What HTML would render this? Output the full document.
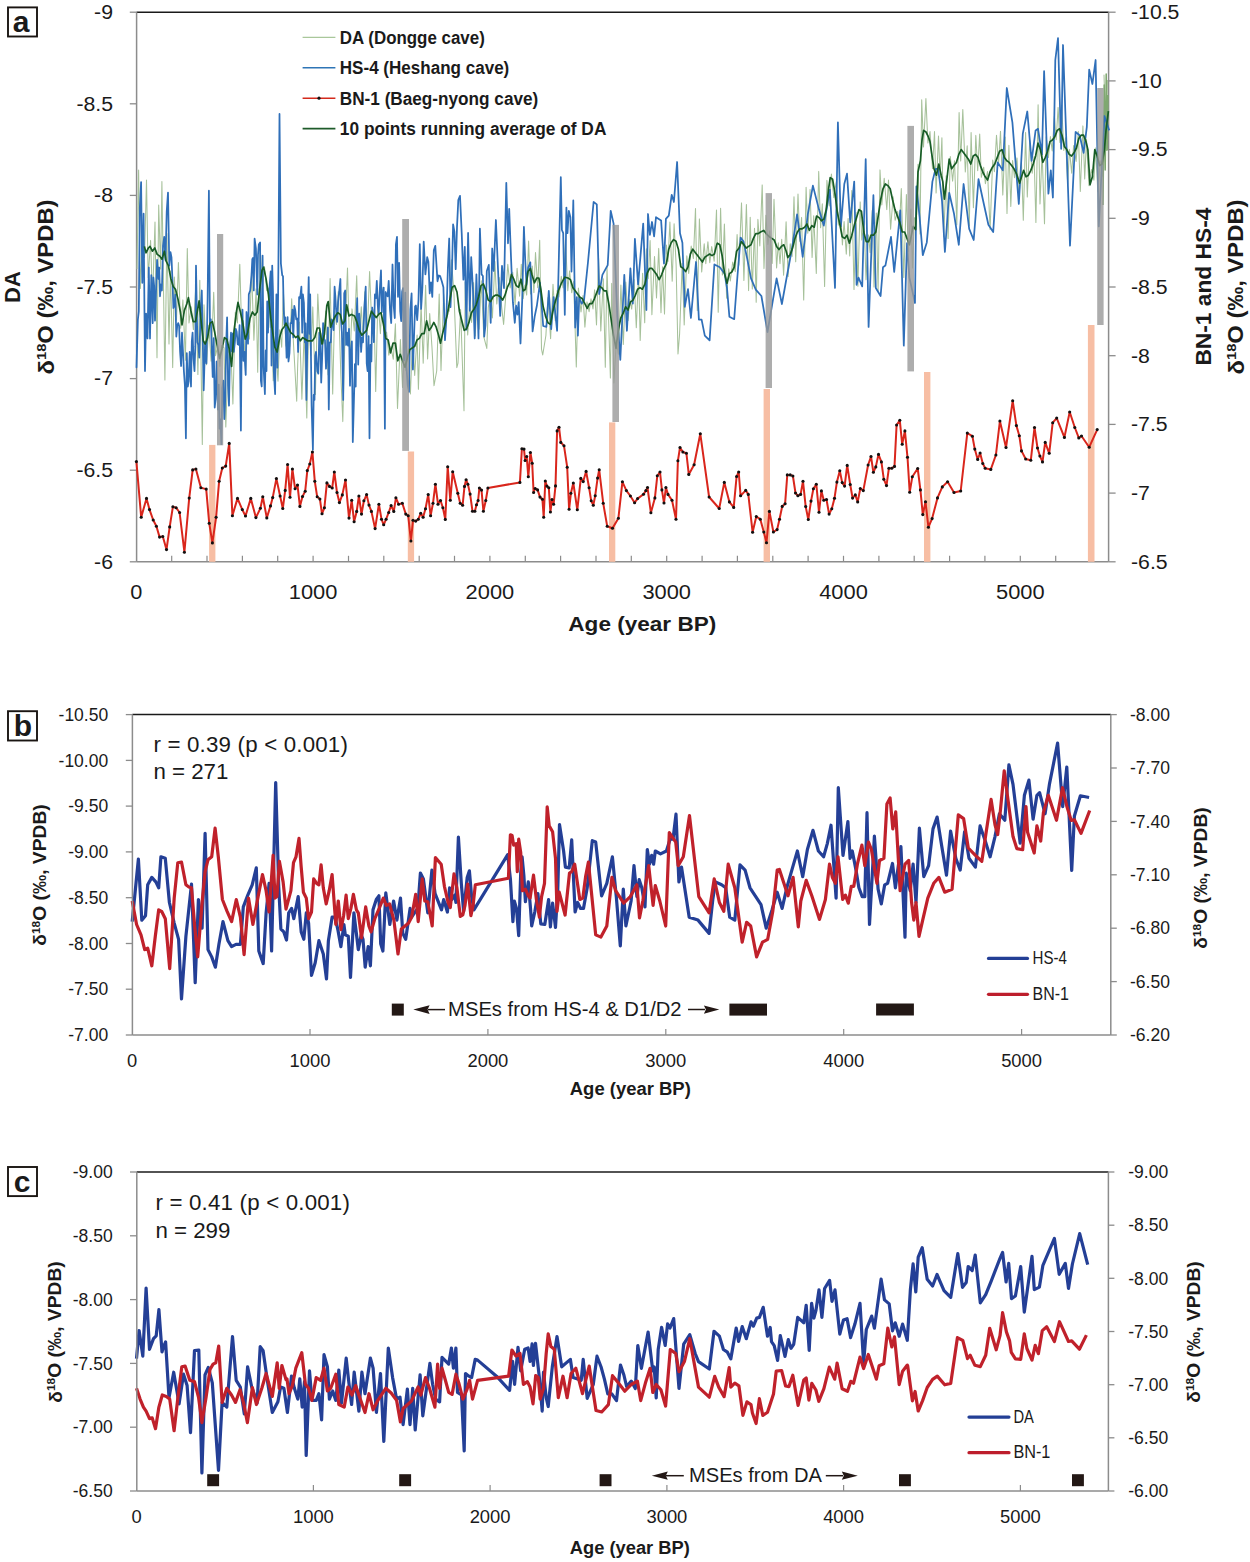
<!DOCTYPE html>
<html><head><meta charset="utf-8"><style>
html,body{margin:0;padding:0;background:#fff;}
svg{display:block;font-family:"Liberation Sans",sans-serif;}
</style></head><body>
<svg width="1250" height="1562" viewBox="0 0 1250 1562" font-family="'Liberation Sans', sans-serif">
<rect width="1250" height="1562" fill="#fff"/>
<rect x="8.0" y="7.4" width="29.0" height="29.1" fill="none" stroke="#1a1512" stroke-width="1.9"/>
<text x="21.2" y="31.9" font-size="30" text-anchor="middle" font-weight="bold" fill="#1a1a1a" >a</text>
<line x1="129.8" y1="12.2" x2="136.6" y2="12.2" stroke="#8c8c8c" stroke-width="1.3" />
<text x="113.0" y="19.0" font-size="19.5" text-anchor="end" textLength="18.9" lengthAdjust="spacingAndGlyphs" fill="#1a1a1a" >-9</text>
<line x1="129.8" y1="103.8" x2="136.6" y2="103.8" stroke="#8c8c8c" stroke-width="1.3" />
<text x="113.0" y="110.6" font-size="19.5" text-anchor="end" textLength="36.6" lengthAdjust="spacingAndGlyphs" fill="#1a1a1a" >-8.5</text>
<line x1="129.8" y1="195.4" x2="136.6" y2="195.4" stroke="#8c8c8c" stroke-width="1.3" />
<text x="113.0" y="202.2" font-size="19.5" text-anchor="end" textLength="18.9" lengthAdjust="spacingAndGlyphs" fill="#1a1a1a" >-8</text>
<line x1="129.8" y1="287.0" x2="136.6" y2="287.0" stroke="#8c8c8c" stroke-width="1.3" />
<text x="113.0" y="293.8" font-size="19.5" text-anchor="end" textLength="36.6" lengthAdjust="spacingAndGlyphs" fill="#1a1a1a" >-7.5</text>
<line x1="129.8" y1="378.6" x2="136.6" y2="378.6" stroke="#8c8c8c" stroke-width="1.3" />
<text x="113.0" y="385.4" font-size="19.5" text-anchor="end" textLength="18.9" lengthAdjust="spacingAndGlyphs" fill="#1a1a1a" >-7</text>
<line x1="129.8" y1="470.2" x2="136.6" y2="470.2" stroke="#8c8c8c" stroke-width="1.3" />
<text x="113.0" y="477.0" font-size="19.5" text-anchor="end" textLength="36.6" lengthAdjust="spacingAndGlyphs" fill="#1a1a1a" >-6.5</text>
<line x1="129.8" y1="561.8" x2="136.6" y2="561.8" stroke="#8c8c8c" stroke-width="1.3" />
<text x="113.0" y="568.6" font-size="19.5" text-anchor="end" textLength="18.9" lengthAdjust="spacingAndGlyphs" fill="#1a1a1a" >-6</text>
<line x1="1108.6" y1="12.2" x2="1115.6" y2="12.2" stroke="#8c8c8c" stroke-width="1.3" />
<text x="1131.0" y="19.0" font-size="19.5" text-anchor="start" textLength="48.4" lengthAdjust="spacingAndGlyphs" fill="#1a1a1a" >-10.5</text>
<line x1="1108.6" y1="80.9" x2="1115.6" y2="80.9" stroke="#8c8c8c" stroke-width="1.3" />
<text x="1131.0" y="87.7" font-size="19.5" text-anchor="start" textLength="30.7" lengthAdjust="spacingAndGlyphs" fill="#1a1a1a" >-10</text>
<line x1="1108.6" y1="149.6" x2="1115.6" y2="149.6" stroke="#8c8c8c" stroke-width="1.3" />
<text x="1131.0" y="156.4" font-size="19.5" text-anchor="start" textLength="36.6" lengthAdjust="spacingAndGlyphs" fill="#1a1a1a" >-9.5</text>
<line x1="1108.6" y1="218.3" x2="1115.6" y2="218.3" stroke="#8c8c8c" stroke-width="1.3" />
<text x="1131.0" y="225.1" font-size="19.5" text-anchor="start" textLength="18.9" lengthAdjust="spacingAndGlyphs" fill="#1a1a1a" >-9</text>
<line x1="1108.6" y1="287.0" x2="1115.6" y2="287.0" stroke="#8c8c8c" stroke-width="1.3" />
<text x="1131.0" y="293.8" font-size="19.5" text-anchor="start" textLength="36.6" lengthAdjust="spacingAndGlyphs" fill="#1a1a1a" >-8.5</text>
<line x1="1108.6" y1="355.7" x2="1115.6" y2="355.7" stroke="#8c8c8c" stroke-width="1.3" />
<text x="1131.0" y="362.5" font-size="19.5" text-anchor="start" textLength="18.9" lengthAdjust="spacingAndGlyphs" fill="#1a1a1a" >-8</text>
<line x1="1108.6" y1="424.4" x2="1115.6" y2="424.4" stroke="#8c8c8c" stroke-width="1.3" />
<text x="1131.0" y="431.2" font-size="19.5" text-anchor="start" textLength="36.6" lengthAdjust="spacingAndGlyphs" fill="#1a1a1a" >-7.5</text>
<line x1="1108.6" y1="493.1" x2="1115.6" y2="493.1" stroke="#8c8c8c" stroke-width="1.3" />
<text x="1131.0" y="499.9" font-size="19.5" text-anchor="start" textLength="18.9" lengthAdjust="spacingAndGlyphs" fill="#1a1a1a" >-7</text>
<line x1="1108.6" y1="561.8" x2="1115.6" y2="561.8" stroke="#8c8c8c" stroke-width="1.3" />
<text x="1131.0" y="568.6" font-size="19.5" text-anchor="start" textLength="36.6" lengthAdjust="spacingAndGlyphs" fill="#1a1a1a" >-6.5</text>
<text x="136.3" y="599.0" font-size="19.5" text-anchor="middle" textLength="12.1" lengthAdjust="spacingAndGlyphs" fill="#1a1a1a" >0</text>
<text x="313.1" y="599.0" font-size="19.5" text-anchor="middle" textLength="48.6" lengthAdjust="spacingAndGlyphs" fill="#1a1a1a" >1000</text>
<text x="489.9" y="599.0" font-size="19.5" text-anchor="middle" textLength="48.6" lengthAdjust="spacingAndGlyphs" fill="#1a1a1a" >2000</text>
<text x="666.7" y="599.0" font-size="19.5" text-anchor="middle" textLength="48.6" lengthAdjust="spacingAndGlyphs" fill="#1a1a1a" >3000</text>
<text x="843.5" y="599.0" font-size="19.5" text-anchor="middle" textLength="48.6" lengthAdjust="spacingAndGlyphs" fill="#1a1a1a" >4000</text>
<text x="1020.3" y="599.0" font-size="19.5" text-anchor="middle" textLength="48.6" lengthAdjust="spacingAndGlyphs" fill="#1a1a1a" >5000</text>
<line x1="171.7" y1="555.8" x2="171.7" y2="561.8" stroke="#8c8c8c" stroke-width="1.2" />
<line x1="207.0" y1="555.8" x2="207.0" y2="561.8" stroke="#8c8c8c" stroke-width="1.2" />
<line x1="242.4" y1="555.8" x2="242.4" y2="561.8" stroke="#8c8c8c" stroke-width="1.2" />
<line x1="277.7" y1="555.8" x2="277.7" y2="561.8" stroke="#8c8c8c" stroke-width="1.2" />
<line x1="313.1" y1="555.8" x2="313.1" y2="561.8" stroke="#8c8c8c" stroke-width="1.2" />
<line x1="348.5" y1="555.8" x2="348.5" y2="561.8" stroke="#8c8c8c" stroke-width="1.2" />
<line x1="383.8" y1="555.8" x2="383.8" y2="561.8" stroke="#8c8c8c" stroke-width="1.2" />
<line x1="419.2" y1="555.8" x2="419.2" y2="561.8" stroke="#8c8c8c" stroke-width="1.2" />
<line x1="454.5" y1="555.8" x2="454.5" y2="561.8" stroke="#8c8c8c" stroke-width="1.2" />
<line x1="489.9" y1="555.8" x2="489.9" y2="561.8" stroke="#8c8c8c" stroke-width="1.2" />
<line x1="525.3" y1="555.8" x2="525.3" y2="561.8" stroke="#8c8c8c" stroke-width="1.2" />
<line x1="560.6" y1="555.8" x2="560.6" y2="561.8" stroke="#8c8c8c" stroke-width="1.2" />
<line x1="596.0" y1="555.8" x2="596.0" y2="561.8" stroke="#8c8c8c" stroke-width="1.2" />
<line x1="631.3" y1="555.8" x2="631.3" y2="561.8" stroke="#8c8c8c" stroke-width="1.2" />
<line x1="666.7" y1="555.8" x2="666.7" y2="561.8" stroke="#8c8c8c" stroke-width="1.2" />
<line x1="702.1" y1="555.8" x2="702.1" y2="561.8" stroke="#8c8c8c" stroke-width="1.2" />
<line x1="737.4" y1="555.8" x2="737.4" y2="561.8" stroke="#8c8c8c" stroke-width="1.2" />
<line x1="772.8" y1="555.8" x2="772.8" y2="561.8" stroke="#8c8c8c" stroke-width="1.2" />
<line x1="808.1" y1="555.8" x2="808.1" y2="561.8" stroke="#8c8c8c" stroke-width="1.2" />
<line x1="843.5" y1="555.8" x2="843.5" y2="561.8" stroke="#8c8c8c" stroke-width="1.2" />
<line x1="878.9" y1="555.8" x2="878.9" y2="561.8" stroke="#8c8c8c" stroke-width="1.2" />
<line x1="914.2" y1="555.8" x2="914.2" y2="561.8" stroke="#8c8c8c" stroke-width="1.2" />
<line x1="949.6" y1="555.8" x2="949.6" y2="561.8" stroke="#8c8c8c" stroke-width="1.2" />
<line x1="984.9" y1="555.8" x2="984.9" y2="561.8" stroke="#8c8c8c" stroke-width="1.2" />
<line x1="1020.3" y1="555.8" x2="1020.3" y2="561.8" stroke="#8c8c8c" stroke-width="1.2" />
<line x1="1055.7" y1="555.8" x2="1055.7" y2="561.8" stroke="#8c8c8c" stroke-width="1.2" />
<line x1="1091.0" y1="555.8" x2="1091.0" y2="561.8" stroke="#8c8c8c" stroke-width="1.2" />
<text x="642.3" y="631.0" font-size="21" text-anchor="middle" font-weight="bold" textLength="148" lengthAdjust="spacingAndGlyphs" fill="#1a1a1a" >Age (year BP)</text>
<text transform="translate(19.5,287.0) rotate(-90)" x="0" y="0" font-size="22" font-weight="bold" text-anchor="middle" fill="#1a1a1a">DA</text>
<text transform="translate(53.5,287.0) rotate(-90)" x="0" y="0" font-size="22" font-weight="bold" text-anchor="middle" fill="#1a1a1a" textLength="175" lengthAdjust="spacingAndGlyphs">δ<tspan font-size="0.62em" dy="-0.55em">18</tspan><tspan dy="0.34em">O (‰, VPDB)</tspan></text>
<text transform="translate(1210.5,286.6) rotate(-90)" x="0" y="0" font-size="22" font-weight="bold" text-anchor="middle" fill="#1a1a1a" textLength="158" lengthAdjust="spacingAndGlyphs">BN-1 and HS-4</text>
<text transform="translate(1243.5,287.0) rotate(-90)" x="0" y="0" font-size="22" font-weight="bold" text-anchor="middle" fill="#1a1a1a" textLength="175" lengthAdjust="spacingAndGlyphs">δ<tspan font-size="0.62em" dy="-0.55em">18</tspan><tspan dy="0.34em">O (‰, VPDB)</tspan></text>
<line x1="302.6" y1="37.4" x2="335.4" y2="37.4" stroke="#a9c79a" stroke-width="1.3" />
<text x="339.8" y="43.8" font-size="18" text-anchor="start" font-weight="bold" textLength="145" lengthAdjust="spacingAndGlyphs" fill="#1a1a1a" >DA (Dongge cave)</text>
<line x1="302.6" y1="67.8" x2="335.4" y2="67.8" stroke="#2e75b6" stroke-width="1.6" />
<text x="339.8" y="74.2" font-size="18" text-anchor="start" font-weight="bold" textLength="169.5" lengthAdjust="spacingAndGlyphs" fill="#1a1a1a" >HS-4 (Heshang cave)</text>
<line x1="302.6" y1="98.2" x2="335.4" y2="98.2" stroke="#d42a1c" stroke-width="1.6" />
<circle cx="319" cy="98.19999999999999" r="1.6" fill="#111"/>
<text x="339.8" y="104.6" font-size="18" text-anchor="start" font-weight="bold" textLength="198.5" lengthAdjust="spacingAndGlyphs" fill="#1a1a1a" >BN-1 (Baeg-nyong cave)</text>
<line x1="302.6" y1="128.6" x2="335.4" y2="128.6" stroke="#1e5b2a" stroke-width="1.6" />
<text x="339.8" y="135.0" font-size="18" text-anchor="start" font-weight="bold" textLength="266.6" lengthAdjust="spacingAndGlyphs" fill="#1a1a1a" >10 points running average of DA</text>
<line x1="136.6" y1="12.2" x2="1108.6" y2="12.2" stroke="#1a1a1a" stroke-width="1.5" />
<line x1="136.6" y1="12.2" x2="136.6" y2="561.8" stroke="#8c8c8c" stroke-width="1.5" />
<line x1="1108.6" y1="12.2" x2="1108.6" y2="561.8" stroke="#8c8c8c" stroke-width="1.5" />
<line x1="136.6" y1="561.8" x2="1108.6" y2="561.8" stroke="#8c8c8c" stroke-width="1.5" />
<polyline points="137.0,269.0 138.6,170.0 140.4,288.4 142.4,239.6 144.5,257.5 146.5,180.0 148.2,277.5 150.6,240.4 152.5,301.1 155.0,222.0 157.0,357.8 158.7,205.1 160.6,268.9 161.9,181.5 164.9,380.0 166.9,233.5 169.0,344.0 170.5,271.0 172.7,367.6 174.3,277.1 176.5,320.0 178.4,262.5 180.7,328.2 182.9,299.9 185.4,360.3 187.3,248.6 189.0,323.0 191.3,306.8 193.4,329.6 195.7,288.4 197.9,374.4 199.8,280.3 202.3,444.5 204.0,304.8 206.6,364.7 208.8,325.4 211.1,361.2 213.7,292.2 215.6,355.7 217.9,344.7 219.9,366.5 221.7,345.4 224.0,347.9 225.8,427.0 228.3,353.2 230.4,339.4 232.9,404.1 235.3,312.4 237.4,322.9 239.8,264.2 241.6,327.1 243.4,320.5 245.5,370.7 247.4,328.9 249.4,339.1 251.6,269.5 253.9,340.2 256.1,288.9 257.7,372.2 260.1,247.5 262.5,287.6 264.5,266.5 266.7,290.7 268.4,288.1 270.2,327.5 271.8,321.5 273.2,380.8 275.5,344.2 278.0,381.3 279.8,329.9 281.7,347.2 283.4,291.6 286.0,345.9 288.1,322.7 289.8,346.4 291.7,298.8 293.4,341.9 296.7,401.2 297.7,364.4 299.4,322.0 301.9,399.2 304.2,331.2 306.8,418.0 308.6,323.9 310.9,355.7 312.8,306.9 315.4,394.5 317.8,294.1 320.1,342.2 322.2,333.2 323.8,343.8 325.7,311.1 328.0,374.7 330.1,278.5 332.7,394.1 334.6,311.0 336.4,324.5 338.3,291.6 340.8,374.3 342.8,421.6 345.2,326.2 347.5,268.1 349.9,362.8 352.0,308.9 354.3,330.9 356.7,275.8 358.7,346.9 361.3,306.7 363.1,342.2 364.8,291.8 367.2,336.6 369.6,271.6 371.9,327.8 374.0,309.6 375.7,391.4 377.9,298.7 380.4,333.8 382.9,287.3 384.7,343.6 386.6,332.0 388.8,355.2 390.8,346.8 393.3,359.3 395.4,323.8 397.5,408.4 400.4,339.5 402.5,387.4 404.2,352.0 405.9,370.6 408.3,348.7 410.4,393.9 412.6,338.7 414.7,375.4 417.1,335.1 418.4,389.2 421.1,304.3 423.2,363.3 425.6,285.2 427.6,358.9 429.7,313.5 432.0,347.7 434.0,385.6 436.7,371.0 439.2,294.1 441.0,370.4 443.6,294.2 445.3,330.9 447.4,309.9 449.2,311.1 451.5,259.7 454.0,294.9 456.8,367.6 458.0,363.1 460.6,309.4 464.0,410.8 465.2,282.2 467.7,335.0 469.7,303.5 471.6,322.4 473.6,282.6 475.2,336.0 477.2,297.0 479.1,329.2 481.3,280.8 483.8,336.8 486.8,348.4 488.3,307.3 490.7,293.9 492.4,317.9 494.9,261.6 496.8,303.9 499.3,277.5 501.6,306.4 503.6,324.4 505.3,301.9 507.8,264.3 510.2,288.0 512.7,272.3 515.1,304.6 517.1,268.3 519.6,296.2 521.3,264.2 523.2,298.6 524.9,285.1 526.7,295.1 528.6,241.0 530.5,293.9 532.3,266.1 533.9,292.8 535.5,252.5 537.7,287.7 539.7,240.2 541.5,349.1 542.7,355.0 545.9,335.5 548.0,297.6 550.6,338.8 553.0,284.3 555.3,320.6 557.2,290.4 559.0,296.9 561.3,276.3 563.1,287.9 565.5,239.6 567.8,290.8 569.6,270.9 571.7,292.8 573.7,281.4 576.3,367.0 578.4,288.1 581.0,311.9 583.0,295.5 584.9,327.1 587.0,301.9 589.1,311.7 591.0,298.8 593.0,308.9 594.6,289.7 596.5,325.0 598.6,258.4 600.8,330.9 603.3,278.8 605.3,367.3 607.0,266.5 610.4,378.0 611.7,283.4 613.9,382.9 616.3,340.6 618.4,354.3 620.9,285.0 623.3,344.5 625.8,282.1 628.1,320.6 629.7,299.1 631.7,309.1 634.1,279.6 636.3,327.7 638.6,273.6 640.2,340.4 642.6,273.3 644.7,322.8 646.4,248.7 648.2,278.7 650.1,240.6 651.9,314.7 654.5,256.6 656.5,297.9 658.7,248.4 661.0,312.8 662.6,266.7 664.5,314.1 666.4,245.0 668.0,261.4 669.9,222.1 672.2,281.3 674.1,223.8 676.1,264.3 678.0,354.0 679.6,333.9 682.2,263.3 684.2,325.0 686.8,255.9 688.7,273.5 691.2,246.0 693.4,258.6 695.5,208.5 697.3,310.4 699.4,218.9 701.7,272.0 704.2,243.7 705.8,263.7 707.9,241.8 709.8,262.7 711.7,246.6 714.2,261.3 716.5,210.1 718.2,312.3 720.6,208.2 722.4,274.9 724.4,224.1 726.6,298.2 728.7,268.8 730.3,280.9 732.7,262.1 735.3,271.6 737.1,234.6 738.9,265.2 741.5,202.9 743.9,280.5 746.4,204.5 748.6,290.6 750.2,217.3 752.3,289.1 754.5,228.2 756.2,302.2 757.9,219.4 759.8,246.0 762.2,184.9 764.0,268.6 765.9,215.2 767.9,244.5 769.7,230.7 772.2,263.5 774.0,199.3 776.6,268.0 778.3,242.7 780.0,263.7 781.7,239.3 783.6,275.3 786.1,221.7 788.1,276.6 790.2,243.7 792.1,256.6 794.0,196.7 795.7,261.7 798.0,194.1 799.8,241.2 801.6,217.4 803.7,300.0 806.1,187.2 807.8,233.2 810.1,189.4 812.1,257.6 813.7,215.8 816.3,273.4 818.7,171.4 820.6,227.7 822.3,203.8 824.6,286.5 826.9,180.4 829.3,206.0 831.4,174.0 833.8,197.6 836.3,181.7 838.3,225.1 840.1,203.4 842.4,245.0 844.1,221.5 846.3,254.1 848.1,218.5 849.7,255.9 851.8,190.5 854.0,289.4 856.1,212.5 857.9,286.3 860.2,201.9 861.8,240.0 864.1,221.1 866.0,279.7 868.5,234.9 870.1,252.8 872.2,210.3 874.0,287.0 876.3,213.1 878.1,291.1 880.0,169.9 881.8,204.9 884.2,178.2 886.8,209.6 888.5,180.0 890.6,229.3 893.1,196.7 895.1,220.3 897.7,211.4 899.3,228.5 901.3,188.6 903.8,277.4 906.4,194.5 908.3,251.5 910.9,209.1 912.5,268.1 914.5,217.7 916.4,219.3 918.0,164.2 920.0,234.0 921.7,99.7 923.5,146.9 925.9,98.6 927.9,143.0 930.0,131.5 932.5,168.6 934.5,131.6 936.1,193.1 938.5,136.0 940.2,177.4 941.9,137.7 943.7,236.8 946.2,175.7 948.1,238.5 950.3,156.5 952.6,181.1 954.5,160.8 956.8,224.7 959.1,112.6 960.7,161.0 962.8,109.6 965.3,171.9 967.2,145.8 969.3,225.4 971.1,132.5 973.4,207.7 975.8,135.4 977.7,170.6 979.7,134.1 981.3,177.3 983.7,167.2 985.4,183.7 987.5,171.5 990.1,229.6 992.7,160.0 994.4,171.7 996.5,135.3 998.5,164.2 1000.5,131.2 1002.8,195.1 1005.2,137.1 1007.0,213.4 1008.9,145.3 1010.8,206.5 1012.6,160.5 1014.5,177.8 1017.0,157.9 1018.9,197.8 1021.5,162.6 1023.3,220.3 1025.6,132.4 1027.3,197.1 1029.7,140.4 1032.2,173.3 1034.1,156.5 1035.9,222.5 1038.1,104.8 1040.0,203.9 1042.1,151.9 1044.5,223.7 1046.2,136.8 1048.4,157.6 1050.4,136.6 1052.2,150.9 1054.4,116.4 1056.2,139.7 1058.1,107.4 1059.9,142.4 1061.7,105.1 1063.8,150.5 1065.5,137.7 1067.7,184.4 1069.4,149.4 1071.7,173.3 1073.6,145.6 1076.1,161.4 1078.3,131.4 1080.3,191.5 1082.9,125.9 1084.7,179.0 1086.5,139.6 1089.0,185.8 1091.4,169.5 1093.9,180.2 1095.7,147.9 1097.8,191.6 1100.3,160.8 1102.5,176.2 1104.6,141.9 1106.5,150.4 1104.0,75.0 1106.0,140.0 1107.5,80.0" fill="none" stroke="#a6c19a" stroke-width="1.05" stroke-linejoin="round" />
<polyline points="1103.0,205.0 1104.2,85.0 1105.2,170.0 1106.2,74.0 1107.2,150.0 1108.0,95.0" fill="none" stroke="#7fa870" stroke-width="1.5" stroke-linejoin="round" />
<polyline points="137.2,340.0 136.5,367.3 137.9,319.3 138.8,311.4 139.8,208.0 141.1,182.1 142.3,282.8 143.6,213.7 145.0,371.1 146.1,313.6 147.5,338.5 148.8,267.5 150.0,338.5 151.3,275.2 152.7,323.1 153.4,277.5 154.2,286.7 155.0,320.7 155.7,302.0 157.1,259.8 158.4,279.0 159.2,267.5 160.0,296.3 160.9,284.5 161.9,290.5 163.0,245.9 164.2,236.8 165.5,260.1 166.7,211.8 168.0,192.6 169.3,265.7 170.5,252.1 171.5,257.4 172.4,279.0 173.4,308.0 174.3,305.9 175.3,294.5 176.3,336.6 177.2,326.0 178.2,323.1 179.1,325.8 180.1,351.9 181.1,366.1 182.0,332.7 183.0,352.1 183.9,371.1 184.9,385.4 185.9,438.3 186.8,353.2 187.8,386.5 188.7,381.4 189.7,351.9 191.0,386.5 191.8,341.3 192.6,332.7 193.5,358.9 194.5,371.1 195.3,346.9 196.0,265.6 197.4,342.3 198.3,344.9 199.3,357.7 200.5,314.3 201.8,290.5 202.8,343.9 203.7,390.3 205.1,342.3 206.4,363.5 207.6,300.1 208.9,190.7 209.9,322.4 210.8,319.3 211.8,348.9 212.7,376.9 213.7,338.1 214.7,407.6 215.6,398.9 216.6,361.5 217.9,409.5 218.7,384.6 219.5,428.7 220.4,419.4 221.4,444.1 222.3,388.0 223.3,380.7 224.3,419.1 225.2,399.9 226.2,343.2 227.1,317.4 228.1,385.5 229.0,405.7 230.0,351.4 231.0,332.7 231.9,351.3 232.9,333.3 233.8,351.9 234.8,343.0 235.8,328.9 236.7,331.8 237.7,344.3 238.6,344.8 239.6,325.1 240.9,430.6 241.7,339.8 242.5,309.7 243.4,360.8 244.4,351.9 245.7,375.0 246.5,312.0 247.3,323.1 248.0,343.7 248.8,294.4 250.2,290.5 251.5,275.2 252.3,259.1 253.0,257.9 253.8,290.4 254.6,238.7 255.9,248.3 257.3,294.4 258.0,255.0 258.8,244.5 260.1,242.5 260.9,380.9 261.7,386.5 262.6,255.6 263.6,367.3 264.9,394.2 265.7,350.5 266.5,371.1 267.2,301.4 268.0,332.7 269.3,290.5 270.7,271.3 271.5,365.5 272.2,265.6 273.0,292.3 273.8,371.1 275.1,394.2 276.4,294.4 277.4,367.7 278.4,265.6 279.5,113.9 280.9,263.6 282.2,275.2 283.0,276.3 283.7,309.7 284.5,324.8 285.3,317.4 286.6,357.7 287.6,317.1 288.5,361.5 289.5,352.8 290.5,323.1 291.4,323.2 292.4,309.7 293.3,337.4 294.3,305.9 295.3,310.3 296.2,319.3 297.2,318.5 298.1,351.9 299.1,297.1 300.1,298.2 301.4,286.7 302.2,332.7 302.9,294.4 303.9,302.8 304.9,342.3 305.6,323.4 306.4,399.9 307.7,323.1 308.7,277.1 309.5,333.8 310.2,294.4 311.6,405.7 312.9,449.8 313.7,395.0 314.5,399.9 315.2,355.6 316.0,351.9 317.3,371.1 318.3,373.7 319.3,332.7 320.2,341.1 321.2,382.6 322.1,359.3 323.1,323.1 324.0,338.7 325.0,340.4 326.0,368.7 326.9,351.9 327.9,327.5 328.8,409.5 329.8,342.3 330.8,342.3 331.7,319.3 332.7,323.1 333.6,330.2 334.6,286.7 335.4,296.9 336.1,309.7 337.1,321.9 338.1,302.0 339.2,291.0 340.4,279.0 341.1,321.4 341.9,332.7 343.2,399.9 344.2,293.3 345.2,290.5 346.1,345.0 347.1,332.7 348.0,345.7 349.0,328.9 350.0,385.7 350.9,351.9 351.9,341.4 352.8,442.1 354.2,390.3 354.9,364.2 355.7,386.5 356.5,315.8 357.2,298.2 358.2,364.6 359.2,313.6 360.1,324.5 361.1,351.9 362.0,337.7 363.0,342.3 364.3,308.6 365.7,286.7 366.7,363.3 367.6,371.1 368.6,336.2 369.5,438.3 370.5,344.8 371.4,361.5 372.2,307.5 373.0,317.4 373.9,342.1 374.9,294.4 375.9,298.1 376.8,280.9 377.8,305.6 378.7,313.6 379.9,288.0 381.0,270.4 381.8,312.3 382.6,294.4 383.7,287.6 384.9,428.7 385.7,292.0 386.4,294.4 387.6,296.4 388.7,280.9 390.0,310.0 391.2,323.1 392.5,264.5 393.7,305.9 394.8,318.2 395.9,244.4 397.0,236.8 398.0,296.8 399.1,262.8 400.2,311.3 401.2,321.1 402.1,291.8 403.0,288.2 404.1,360.2 405.3,292.6 406.4,366.0 407.7,385.1 409.0,391.9 410.3,309.6 411.6,293.4 412.9,369.5 414.2,331.4 415.1,306.3 415.9,305.5 417.2,320.2 418.5,300.3 419.8,244.1 421.1,309.0 422.4,287.7 423.7,241.6 425.4,274.4 427.2,257.1 428.4,261.8 429.7,293.4 431.0,282.3 432.3,296.9 433.8,250.3 435.3,245.9 437.5,281.3 438.8,275.4 440.1,276.1 441.8,281.3 443.4,287.3 445.0,340.1 446.4,317.3 447.9,267.5 449.2,238.5 450.5,307.2 451.8,278.1 453.1,224.3 454.4,231.7 455.7,269.2 457.0,227.1 458.3,200.1 460.0,195.8 461.7,232.9 463.4,279.6 464.8,246.8 466.4,329.7 468.1,232.9 469.8,310.7 471.2,257.1 472.9,288.2 474.7,338.4 476.4,274.4 478.5,338.4 479.9,228.6 481.6,274.4 482.9,276.0 484.2,336.6 485.5,325.2 486.8,271.0 488.8,264.9 490.7,322.8 492.2,248.5 493.7,271.0 495.9,220.0 498.0,269.2 500.2,315.9 502.0,265.8 504.0,288.2 506.3,182.8 508.0,243.3 509.2,208.8 511.0,257.1 512.9,302.2 514.8,322.8 516.1,305.5 517.4,314.7 518.7,302.1 520.5,343.5 522.2,300.5 523.9,226.9 525.2,259.6 526.5,284.8 528.2,267.5 530.3,262.3 532.6,331.4 534.7,316.3 536.9,305.5 540.0,282.8 543.2,326.0 546.4,326.8 548.8,290.8 551.2,329.2 553.6,297.2 557.1,330.8 560.8,177.2 561.9,230.0 563.2,233.2 564.8,314.8 566.4,207.6 567.5,233.2 568.8,210.8 570.4,217.2 571.5,271.6 573.3,200.4 575.2,327.6 576.8,297.2 577.9,335.6 579.2,297.2 581.6,303.6 584.0,300.4 588.0,262.0 593.6,202.0 596.8,204.4 599.2,294.0 602.4,274.8 607.7,265.2 610.7,210.8 613.6,223.6 617.3,316.4 620.3,359.9 624.3,274.8 626.9,330.8 630.4,268.4 632.8,303.6 634.9,238.8 638.1,284.4 643.2,223.6 646.4,310.0 648.0,214.0 649.9,234.8 652.0,222.0 654.1,236.4 656.0,217.2 661.1,220.4 664.0,263.6 665.9,218.8 668.8,215.6 671.7,194.8 673.9,202.0 677.1,162.0 680.0,233.2 682.4,242.8 684.8,306.8 688.0,289.2 690.9,318.0 696.0,262.0 698.9,319.6 701.6,319.6 704.8,335.6 709.6,340.4 714.4,264.4 715.0,264.8 719.8,267.2 724.6,273.6 727.0,288.0 729.4,316.8 734.2,319.2 737.4,276.8 740.6,237.6 743.5,241.6 747.0,257.6 751.0,278.4 755.8,289.6 761.4,296.0 767.5,332.0 776.6,278.4 781.9,304.0 786.2,280.0 791.8,249.6 797.1,214.4 802.7,256.8 807.8,214.4 812.9,185.6 819.0,209.6 823.8,225.6 829.9,189.6 835.0,288.0 837.9,122.4 840.9,226.4 844.3,184.0 847.0,173.6 850.2,222.4 854.2,181.6 856.6,284.8 858.5,277.6 862.2,286.4 865.7,159.2 868.6,326.9 873.4,195.2 875.8,288.0 880.6,296.0 883.0,267.2 885.4,265.6 891.0,236.8 894.2,272.0 900.3,210.4 903.8,345.6 907.0,243.2 909.4,277.6 915.0,303.0 916.4,186.4 919.6,216.8 922.8,255.2 926.8,242.4 932.4,181.6 935.6,168.8 938.0,168.8 939.6,180.0 942.0,200.8 944.9,252.0 949.2,192.8 954.0,213.6 958.8,244.8 963.6,184.0 969.2,228.8 973.7,240.0 978.5,179.2 982.8,199.2 988.4,224.8 993.2,232.0 997.7,162.4 1002.8,170.4 1006.8,88.0 1012.4,122.4 1018.8,204.0 1022.8,133.6 1027.3,111.5 1031.6,160.8 1035.6,130.4 1038.0,128.8 1042.0,154.4 1044.1,71.2 1048.4,193.6 1050.8,170.4 1052.9,197.6 1055.3,60.0 1058.0,38.1 1061.2,148.8 1063.0,45.0 1070.0,245.6 1075.6,132.0 1079.6,135.2 1083.6,152.8 1086.8,127.2 1089.2,69.6 1092.4,84.0 1095.6,60.0 1098.8,226.4 1104.4,116.0 1109.2,130.4" fill="none" stroke="#2f6fb9" stroke-width="1.75" stroke-linejoin="round" />
<polyline points="144.4,246.4 146.0,252.8 148.4,248.0 150.0,246.4 152.4,251.2 154.8,248.0 157.2,254.4 159.6,256.0 162.0,259.2 164.4,251.2 166.0,260.8 168.4,265.6 170.8,278.4 173.2,286.4 175.6,289.6 178.0,299.2 180.4,312.0 182.0,324.8 184.4,310.4 186.8,304.0 188.4,297.6 190.8,310.4 193.2,321.6 195.6,321.6 197.2,312.0 199.1,300.8 201.2,321.6 203.3,340.8 205.2,344.0 207.6,337.6 210.0,323.2 212.4,321.6 214.8,332.8 217.2,345.6 219.6,358.4 222.0,348.8 224.4,337.6 226.8,339.2 229.2,348.8 231.6,366.4 234.0,331.2 236.4,312.0 238.0,302.4 240.4,312.0 242.8,323.2 245.2,339.2 247.6,332.8 250.0,318.4 252.4,312.0 254.8,315.2 257.2,312.0 259.6,289.6 262.0,270.4 263.6,267.2 266.0,278.4 268.4,294.4 270.8,318.4 273.2,336.0 274.8,347.2 277.2,352.0 279.6,337.6 282.0,329.6 284.4,326.4 286.0,323.2 288.4,328.0 290.8,332.8 293.2,334.4 295.6,337.6 298.0,336.0 300.4,340.8 302.8,337.6 305.2,339.2 307.6,340.8 310.0,340.8 312.4,340.8 314.8,337.6 317.2,328.0 319.6,328.0 322.0,344.0 324.4,334.4 326.8,305.6 328.2,301.6 330.6,327.2 333.0,320.8 335.4,316.0 337.8,312.8 340.2,314.4 342.6,324.0 345.0,320.8 346.6,304.8 349.0,316.0 351.4,314.4 354.6,316.0 357.0,322.4 359.4,330.4 361.8,335.2 364.2,332.8 366.6,330.4 369.0,320.8 371.4,311.2 373.8,314.4 376.2,317.6 378.6,314.4 381.0,312.8 383.4,324.0 385.8,338.4 388.2,340.0 390.6,352.8 393.0,343.2 395.4,343.2 397.8,360.8 400.2,354.4 402.6,360.8 405.0,367.2 407.4,357.6 409.8,349.6 412.2,348.0 414.6,346.4 417.0,340.0 419.4,338.4 421.8,333.6 424.2,333.6 426.6,320.8 429.0,330.4 431.4,327.2 433.8,322.4 436.2,327.2 438.6,335.2 440.5,343.2 442.6,333.6 445.0,324.0 447.4,314.4 449.8,300.0 452.2,287.2 454.6,285.6 457.0,292.0 459.4,311.2 461.8,320.8 464.2,330.4 466.6,328.8 469.0,322.4 471.4,312.8 473.8,309.6 476.2,304.8 478.6,296.8 481.0,285.6 483.4,284.0 485.8,290.4 488.2,300.0 490.6,301.6 493.0,296.8 495.4,295.2 497.8,295.2 500.2,296.8 502.6,300.0 505.0,295.2 507.4,287.2 509.8,282.4 511.4,274.4 513.8,279.2 516.2,285.6 518.6,287.2 521.0,279.2 523.2,290.8 525.6,289.2 528.0,271.6 530.4,268.4 532.0,274.8 534.4,282.8 536.8,278.0 538.9,278.0 540.8,289.2 543.2,306.8 545.6,316.4 548.0,322.8 550.4,324.4 552.8,311.6 555.2,302.0 558.4,290.8 561.6,282.8 564.8,277.2 568.0,278.0 570.4,279.6 572.8,287.6 575.2,290.8 577.6,294.0 580.0,297.2 582.4,298.8 584.8,303.6 587.2,308.4 589.6,303.6 592.0,303.6 594.4,298.8 596.8,292.4 599.2,286.0 601.6,287.6 604.0,290.8 606.4,290.8 608.8,303.6 611.2,319.6 613.6,335.6 616.0,348.4 618.4,329.2 620.8,318.0 623.2,313.2 625.6,306.8 628.0,310.0 630.4,302.0 632.8,300.4 635.2,295.6 637.6,289.2 640.0,287.6 642.4,289.2 644.8,284.4 647.2,273.2 649.6,268.4 652.0,268.4 654.4,271.6 656.8,274.8 659.2,279.6 661.6,274.8 664.0,268.4 666.4,263.6 668.8,249.2 671.2,242.8 673.6,239.6 676.0,241.2 678.4,249.2 680.8,266.8 683.2,268.4 685.6,271.6 688.0,266.8 690.4,254.0 692.8,249.2 695.2,252.4 697.6,255.6 700.0,258.8 702.4,262.0 704.8,257.2 707.2,255.6 709.6,254.0 712.0,255.6 714.4,254.0 716.8,244.4 717.4,243.2 719.8,244.8 722.2,256.0 724.6,273.6 727.0,283.2 729.4,273.6 731.8,272.0 734.2,267.2 736.6,251.2 739.0,248.0 741.4,241.6 743.8,244.8 746.2,248.0 748.6,246.4 751.0,244.8 753.4,238.4 755.8,233.6 758.2,233.6 760.6,232.0 763.8,230.4 766.2,233.6 769.4,236.8 771.8,238.4 774.2,240.0 776.6,246.4 779.0,249.6 781.4,246.4 783.8,244.8 786.2,251.2 787.8,257.6 790.2,254.4 792.6,248.0 795.0,238.4 797.4,232.0 799.8,228.8 802.2,228.8 804.6,227.2 807.0,224.0 809.4,230.4 811.8,225.6 814.2,227.2 816.6,216.0 819.0,217.6 821.4,220.8 823.8,219.2 826.2,209.6 828.6,188.8 830.2,177.6 832.6,179.2 835.0,193.6 837.4,212.8 839.8,224.0 842.2,236.8 844.6,238.4 847.0,235.2 849.4,243.2 851.8,235.2 854.2,225.6 856.6,217.6 859.0,209.6 861.4,211.2 863.8,232.0 866.2,241.6 868.6,241.6 871.0,235.2 873.4,235.2 875.8,232.0 878.2,216.0 880.6,200.0 883.0,188.8 885.4,184.0 887.8,185.6 890.2,188.8 892.6,200.0 895.0,209.6 897.4,216.0 899.8,222.4 902.2,232.0 904.6,232.0 907.0,238.4 909.4,244.8 913.2,226.4 915.6,229.6 918.0,172.0 920.4,160.8 922.0,140.0 923.6,130.4 926.0,132.0 928.4,136.8 930.0,141.6 931.6,152.8 934.0,168.8 936.4,175.2 938.8,164.0 941.2,175.2 942.8,181.6 944.4,199.2 946.8,180.0 949.2,159.2 951.6,168.8 954.0,165.6 956.4,162.4 958.8,154.4 961.2,149.6 963.6,152.8 966.0,156.0 968.4,159.2 970.8,164.0 973.2,156.0 975.6,154.4 978.0,157.6 980.4,165.6 982.8,172.0 985.2,176.8 987.6,180.0 990.0,172.0 992.4,167.2 994.8,164.0 997.2,157.6 999.6,151.2 1002.0,149.6 1004.4,157.6 1006.8,160.8 1009.2,162.4 1011.6,165.6 1014.0,168.8 1016.4,173.6 1019.6,183.2 1022.0,175.2 1023.6,170.4 1026.0,176.8 1028.4,175.2 1030.8,170.4 1033.2,164.0 1035.6,156.0 1038.0,143.2 1040.4,149.6 1042.8,162.4 1045.2,157.6 1047.6,151.2 1050.0,141.6 1052.4,140.0 1054.8,136.8 1057.2,130.4 1059.6,128.8 1062.0,135.2 1064.4,146.4 1066.8,149.6 1069.2,154.4 1071.6,156.0 1074.0,152.8 1076.4,148.0 1078.8,138.4 1081.2,135.2 1083.6,135.2 1086.0,141.6 1087.9,149.6 1090.0,184.8 1092.4,176.8 1094.8,149.6 1097.2,156.0 1099.6,165.6 1102.0,164.0 1104.4,149.6 1106.0,130.4 1108.4,111.2" fill="none" stroke="#175c26" stroke-width="1.7" stroke-linejoin="round" />
<rect x="217.0" y="234.0" width="6.2" height="211.3" fill="#999999" fill-opacity="0.8"/>
<rect x="402.2" y="219.0" width="6.8" height="231.9" fill="#999999" fill-opacity="0.8"/>
<rect x="612.4" y="224.9" width="6.6" height="197.1" fill="#999999" fill-opacity="0.8"/>
<rect x="765.6" y="193.1" width="6.4" height="194.9" fill="#999999" fill-opacity="0.8"/>
<rect x="907.4" y="125.9" width="6.6" height="245.5" fill="#999999" fill-opacity="0.8"/>
<rect x="1097.2" y="88.0" width="6.4" height="237.0" fill="#999999" fill-opacity="0.8"/>
<rect x="209.1" y="444.9" width="6.3" height="116.9" fill="#f7bea4"/>
<rect x="407.8" y="451.5" width="6.3" height="110.3" fill="#f7bea4"/>
<rect x="609.0" y="422.4" width="6.3" height="139.4" fill="#f7bea4"/>
<rect x="763.6" y="389.0" width="6.4" height="172.8" fill="#f7bea4"/>
<rect x="924.0" y="372.0" width="6.4" height="189.8" fill="#f7bea4"/>
<rect x="1087.9" y="325.0" width="6.6" height="236.8" fill="#f7bea4"/>
<polyline points="136.4,461.6 141.2,517.3 146.5,498.4 149.5,509.6 153.2,520.0 156.4,526.2 159.6,537.1 162.8,536.5 166.5,549.6 169.7,526.9 172.9,506.7 176.1,507.7 179.6,512.5 184.4,552.2 189.2,498.1 192.7,469.9 195.9,469.0 200.9,487.8 206.2,489.1 209.2,523.2 212.4,542.9 216.1,517.3 219.1,481.3 222.3,468.0 225.7,466.1 229.2,443.4 232.4,515.7 237.5,498.4 242.3,509.6 245.5,516.0 250.8,498.4 255.9,517.6 260.4,508.3 262.8,496.8 266.8,517.9 270.5,505.9 272.7,497.6 276.4,478.6 280.1,496.0 282.8,508.5 285.2,490.4 287.6,464.5 290.0,497.3 292.4,469.0 295.1,488.8 297.5,485.1 299.9,506.4 302.5,496.5 305.2,491.2 307.3,470.6 309.8,464.0 312.4,452.0 314.8,481.3 317.2,496.8 319.9,499.0 322.0,513.8 324.4,507.7 326.9,482.9 329.5,486.4 332.2,488.0 334.3,472.0 337.0,492.5 339.4,502.6 342.3,494.9 345.5,480.0 349.0,518.1 351.7,500.3 354.1,521.8 356.7,511.4 358.9,496.0 361.5,514.1 363.9,500.8 366.6,494.6 369.0,505.1 371.4,511.4 375.1,528.6 378.9,504.2 381.5,519.2 383.7,524.8 386.1,519.2 388.7,512.5 391.1,505.6 393.8,511.4 395.9,497.8 398.6,504.2 402.3,503.2 405.8,514.1 408.2,515.7 410.9,541.0 413.0,520.3 415.7,521.1 418.3,519.2 420.7,513.3 423.1,517.3 425.5,508.8 428.2,494.6 430.6,515.7 433.0,503.2 435.4,484.2 438.0,504.2 440.5,500.5 442.9,507.8 445.3,519.4 447.7,466.7 450.3,500.3 452.7,471.7 457.8,493.3 460.2,503.2 462.6,505.3 464.5,486.4 466.1,479.7 467.9,484.3 470.1,494.1 472.5,511.2 474.9,511.2 476.5,504.8 478.1,500.5 479.4,488.0 481.5,490.1 483.4,511.2 485.8,500.5 487.9,488.0 519.9,482.4 521.9,448.8 524.0,449.1 525.1,460.5 526.7,456.5 528.3,476.8 530.4,452.5 532.2,463.2 533.6,492.5 535.2,488.5 537.6,489.9 540.0,497.1 542.4,499.2 543.7,517.3 545.3,481.0 546.9,486.1 548.8,487.7 550.4,512.0 552.0,499.5 553.6,504.3 555.5,485.9 557.1,430.9 559.0,427.2 560.8,442.4 564.0,445.8 567.2,467.2 569.1,509.3 570.9,493.3 573.3,483.0 577.3,509.8 580.8,478.4 583.2,481.6 586.1,471.4 589.1,487.8 591.2,500.8 593.3,505.3 595.2,495.7 597.6,478.1 599.2,469.8 603.2,503.2 607.2,526.2 612.5,528.2 618.4,518.2 622.4,481.8 626.4,490.6 630.4,496.0 634.6,502.7 637.6,498.6 643.5,494.2 645.9,490.6 647.5,487.5 650.9,512.8 654.9,497.9 657.3,475.8 660.0,472.0 661.9,489.9 664.0,503.0 665.9,487.5 668.0,494.4 672.0,500.3 676.0,519.2 677.9,460.8 680.0,447.5 682.9,452.0 686.4,453.3 688.8,474.4 694.1,464.8 700.3,433.8 709.1,497.0 719.2,508.5 724.3,482.4 729.4,501.9 733.7,507.4 736.6,476.5 738.7,472.0 740.6,495.8 745.7,490.4 748.3,494.4 752.6,532.2 756.3,516.6 760.3,519.2 763.8,532.0 766.5,542.7 769.4,511.4 773.4,532.0 777.1,529.6 779.5,519.2 782.2,506.4 785.1,503.7 787.3,474.9 790.2,474.9 792.9,476.0 795.5,493.0 797.9,495.8 800.6,494.4 803.0,481.3 805.7,506.6 808.3,519.5 811.0,501.1 813.4,488.8 816.3,484.2 819.0,512.3 821.4,490.9 823.8,500.3 826.5,499.5 829.1,514.1 831.8,508.8 834.5,498.2 836.9,482.1 839.8,470.7 842.2,482.6 844.6,486.1 847.2,465.4 850.2,484.5 852.6,498.1 855.3,494.9 857.7,501.9 860.3,488.5 863.3,490.6 868.1,465.0 871.0,456.5 873.4,472.3 875.8,466.9 878.5,454.4 881.4,461.9 883.8,479.2 886.5,485.6 888.9,468.2 891.8,468.2 894.5,466.4 896.6,425.0 899.8,420.3 902.2,444.3 904.9,430.9 907.5,457.3 909.7,492.3 912.3,476.8 917.7,468.5 920.4,489.9 922.8,514.6 925.5,501.8 928.4,527.2 932.1,518.6 937.5,497.9 942.3,486.9 947.6,481.8 954.0,492.5 960.7,491.0 967.3,433.1 972.4,436.2 974.8,449.1 977.7,459.4 980.1,453.0 982.8,463.5 985.2,468.2 990.8,469.4 995.9,455.0 999.9,421.0 1006.0,447.5 1012.7,400.8 1016.4,425.6 1019.3,435.7 1021.5,450.9 1025.7,459.0 1030.8,460.3 1034.5,427.5 1037.5,448.0 1039.9,456.0 1042.5,461.9 1045.2,442.4 1049.2,453.3 1052.7,422.7 1056.7,418.1 1064.4,437.4 1069.7,412.0 1074.8,427.5 1078.8,437.9 1081.5,436.0 1089.2,447.2 1097.2,429.6" fill="none" stroke="#d9261c" stroke-width="2.0" stroke-linejoin="round" />
<g fill="#111"><circle cx="136.4" cy="461.6" r="1.55"/><circle cx="141.2" cy="517.3" r="1.55"/><circle cx="146.5" cy="498.4" r="1.55"/><circle cx="149.5" cy="509.6" r="1.55"/><circle cx="153.2" cy="520.0" r="1.55"/><circle cx="156.4" cy="526.2" r="1.55"/><circle cx="159.6" cy="537.1" r="1.55"/><circle cx="162.8" cy="536.5" r="1.55"/><circle cx="166.5" cy="549.6" r="1.55"/><circle cx="169.7" cy="526.9" r="1.55"/><circle cx="172.9" cy="506.7" r="1.55"/><circle cx="176.1" cy="507.7" r="1.55"/><circle cx="179.6" cy="512.5" r="1.55"/><circle cx="184.4" cy="552.2" r="1.55"/><circle cx="189.2" cy="498.1" r="1.55"/><circle cx="192.7" cy="469.9" r="1.55"/><circle cx="195.9" cy="469.0" r="1.55"/><circle cx="200.9" cy="487.8" r="1.55"/><circle cx="206.2" cy="489.1" r="1.55"/><circle cx="209.2" cy="523.2" r="1.55"/><circle cx="212.4" cy="542.9" r="1.55"/><circle cx="216.1" cy="517.3" r="1.55"/><circle cx="219.1" cy="481.3" r="1.55"/><circle cx="222.3" cy="468.0" r="1.55"/><circle cx="225.7" cy="466.1" r="1.55"/><circle cx="229.2" cy="443.4" r="1.55"/><circle cx="232.4" cy="515.7" r="1.55"/><circle cx="237.5" cy="498.4" r="1.55"/><circle cx="242.3" cy="509.6" r="1.55"/><circle cx="245.5" cy="516.0" r="1.55"/><circle cx="250.8" cy="498.4" r="1.55"/><circle cx="255.9" cy="517.6" r="1.55"/><circle cx="260.4" cy="508.3" r="1.55"/><circle cx="262.8" cy="496.8" r="1.55"/><circle cx="266.8" cy="517.9" r="1.55"/><circle cx="270.5" cy="505.9" r="1.55"/><circle cx="272.7" cy="497.6" r="1.55"/><circle cx="276.4" cy="478.6" r="1.55"/><circle cx="280.1" cy="496.0" r="1.55"/><circle cx="282.8" cy="508.5" r="1.55"/><circle cx="285.2" cy="490.4" r="1.55"/><circle cx="287.6" cy="464.5" r="1.55"/><circle cx="290.0" cy="497.3" r="1.55"/><circle cx="292.4" cy="469.0" r="1.55"/><circle cx="295.1" cy="488.8" r="1.55"/><circle cx="297.5" cy="485.1" r="1.55"/><circle cx="299.9" cy="506.4" r="1.55"/><circle cx="302.5" cy="496.5" r="1.55"/><circle cx="305.2" cy="491.2" r="1.55"/><circle cx="307.3" cy="470.6" r="1.55"/><circle cx="309.8" cy="464.0" r="1.55"/><circle cx="312.4" cy="452.0" r="1.55"/><circle cx="314.8" cy="481.3" r="1.55"/><circle cx="317.2" cy="496.8" r="1.55"/><circle cx="319.9" cy="499.0" r="1.55"/><circle cx="322.0" cy="513.8" r="1.55"/><circle cx="324.4" cy="507.7" r="1.55"/><circle cx="326.9" cy="482.9" r="1.55"/><circle cx="329.5" cy="486.4" r="1.55"/><circle cx="332.2" cy="488.0" r="1.55"/><circle cx="334.3" cy="472.0" r="1.55"/><circle cx="337.0" cy="492.5" r="1.55"/><circle cx="339.4" cy="502.6" r="1.55"/><circle cx="342.3" cy="494.9" r="1.55"/><circle cx="345.5" cy="480.0" r="1.55"/><circle cx="349.0" cy="518.1" r="1.55"/><circle cx="351.7" cy="500.3" r="1.55"/><circle cx="354.1" cy="521.8" r="1.55"/><circle cx="356.7" cy="511.4" r="1.55"/><circle cx="358.9" cy="496.0" r="1.55"/><circle cx="361.5" cy="514.1" r="1.55"/><circle cx="363.9" cy="500.8" r="1.55"/><circle cx="366.6" cy="494.6" r="1.55"/><circle cx="369.0" cy="505.1" r="1.55"/><circle cx="371.4" cy="511.4" r="1.55"/><circle cx="375.1" cy="528.6" r="1.55"/><circle cx="378.9" cy="504.2" r="1.55"/><circle cx="381.5" cy="519.2" r="1.55"/><circle cx="383.7" cy="524.8" r="1.55"/><circle cx="386.1" cy="519.2" r="1.55"/><circle cx="388.7" cy="512.5" r="1.55"/><circle cx="391.1" cy="505.6" r="1.55"/><circle cx="393.8" cy="511.4" r="1.55"/><circle cx="395.9" cy="497.8" r="1.55"/><circle cx="398.6" cy="504.2" r="1.55"/><circle cx="402.3" cy="503.2" r="1.55"/><circle cx="405.8" cy="514.1" r="1.55"/><circle cx="408.2" cy="515.7" r="1.55"/><circle cx="410.9" cy="541.0" r="1.55"/><circle cx="413.0" cy="520.3" r="1.55"/><circle cx="415.7" cy="521.1" r="1.55"/><circle cx="418.3" cy="519.2" r="1.55"/><circle cx="420.7" cy="513.3" r="1.55"/><circle cx="423.1" cy="517.3" r="1.55"/><circle cx="425.5" cy="508.8" r="1.55"/><circle cx="428.2" cy="494.6" r="1.55"/><circle cx="430.6" cy="515.7" r="1.55"/><circle cx="433.0" cy="503.2" r="1.55"/><circle cx="435.4" cy="484.2" r="1.55"/><circle cx="438.0" cy="504.2" r="1.55"/><circle cx="440.5" cy="500.5" r="1.55"/><circle cx="442.9" cy="507.8" r="1.55"/><circle cx="445.3" cy="519.4" r="1.55"/><circle cx="447.7" cy="466.7" r="1.55"/><circle cx="450.3" cy="500.3" r="1.55"/><circle cx="452.7" cy="471.7" r="1.55"/><circle cx="457.8" cy="493.3" r="1.55"/><circle cx="460.2" cy="503.2" r="1.55"/><circle cx="462.6" cy="505.3" r="1.55"/><circle cx="464.5" cy="486.4" r="1.55"/><circle cx="466.1" cy="479.7" r="1.55"/><circle cx="467.9" cy="484.3" r="1.55"/><circle cx="470.1" cy="494.1" r="1.55"/><circle cx="472.5" cy="511.2" r="1.55"/><circle cx="474.9" cy="511.2" r="1.55"/><circle cx="476.5" cy="504.8" r="1.55"/><circle cx="478.1" cy="500.5" r="1.55"/><circle cx="479.4" cy="488.0" r="1.55"/><circle cx="481.5" cy="490.1" r="1.55"/><circle cx="483.4" cy="511.2" r="1.55"/><circle cx="485.8" cy="500.5" r="1.55"/><circle cx="487.9" cy="488.0" r="1.55"/><circle cx="519.9" cy="482.4" r="1.55"/><circle cx="521.9" cy="448.8" r="1.55"/><circle cx="524.0" cy="449.1" r="1.55"/><circle cx="525.1" cy="460.5" r="1.55"/><circle cx="526.7" cy="456.5" r="1.55"/><circle cx="528.3" cy="476.8" r="1.55"/><circle cx="530.4" cy="452.5" r="1.55"/><circle cx="532.2" cy="463.2" r="1.55"/><circle cx="533.6" cy="492.5" r="1.55"/><circle cx="535.2" cy="488.5" r="1.55"/><circle cx="537.6" cy="489.9" r="1.55"/><circle cx="540.0" cy="497.1" r="1.55"/><circle cx="542.4" cy="499.2" r="1.55"/><circle cx="543.7" cy="517.3" r="1.55"/><circle cx="545.3" cy="481.0" r="1.55"/><circle cx="546.9" cy="486.1" r="1.55"/><circle cx="548.8" cy="487.7" r="1.55"/><circle cx="550.4" cy="512.0" r="1.55"/><circle cx="552.0" cy="499.5" r="1.55"/><circle cx="553.6" cy="504.3" r="1.55"/><circle cx="555.5" cy="485.9" r="1.55"/><circle cx="557.1" cy="430.9" r="1.55"/><circle cx="559.0" cy="427.2" r="1.55"/><circle cx="560.8" cy="442.4" r="1.55"/><circle cx="564.0" cy="445.8" r="1.55"/><circle cx="567.2" cy="467.2" r="1.55"/><circle cx="569.1" cy="509.3" r="1.55"/><circle cx="570.9" cy="493.3" r="1.55"/><circle cx="573.3" cy="483.0" r="1.55"/><circle cx="577.3" cy="509.8" r="1.55"/><circle cx="580.8" cy="478.4" r="1.55"/><circle cx="583.2" cy="481.6" r="1.55"/><circle cx="586.1" cy="471.4" r="1.55"/><circle cx="589.1" cy="487.8" r="1.55"/><circle cx="591.2" cy="500.8" r="1.55"/><circle cx="593.3" cy="505.3" r="1.55"/><circle cx="595.2" cy="495.7" r="1.55"/><circle cx="597.6" cy="478.1" r="1.55"/><circle cx="599.2" cy="469.8" r="1.55"/><circle cx="603.2" cy="503.2" r="1.55"/><circle cx="607.2" cy="526.2" r="1.55"/><circle cx="612.5" cy="528.2" r="1.55"/><circle cx="618.4" cy="518.2" r="1.55"/><circle cx="622.4" cy="481.8" r="1.55"/><circle cx="626.4" cy="490.6" r="1.55"/><circle cx="630.4" cy="496.0" r="1.55"/><circle cx="634.6" cy="502.7" r="1.55"/><circle cx="637.6" cy="498.6" r="1.55"/><circle cx="643.5" cy="494.2" r="1.55"/><circle cx="645.9" cy="490.6" r="1.55"/><circle cx="647.5" cy="487.5" r="1.55"/><circle cx="650.9" cy="512.8" r="1.55"/><circle cx="654.9" cy="497.9" r="1.55"/><circle cx="657.3" cy="475.8" r="1.55"/><circle cx="660.0" cy="472.0" r="1.55"/><circle cx="661.9" cy="489.9" r="1.55"/><circle cx="664.0" cy="503.0" r="1.55"/><circle cx="665.9" cy="487.5" r="1.55"/><circle cx="668.0" cy="494.4" r="1.55"/><circle cx="672.0" cy="500.3" r="1.55"/><circle cx="676.0" cy="519.2" r="1.55"/><circle cx="677.9" cy="460.8" r="1.55"/><circle cx="680.0" cy="447.5" r="1.55"/><circle cx="682.9" cy="452.0" r="1.55"/><circle cx="686.4" cy="453.3" r="1.55"/><circle cx="688.8" cy="474.4" r="1.55"/><circle cx="694.1" cy="464.8" r="1.55"/><circle cx="700.3" cy="433.8" r="1.55"/><circle cx="709.1" cy="497.0" r="1.55"/><circle cx="719.2" cy="508.5" r="1.55"/><circle cx="724.3" cy="482.4" r="1.55"/><circle cx="729.4" cy="501.9" r="1.55"/><circle cx="733.7" cy="507.4" r="1.55"/><circle cx="736.6" cy="476.5" r="1.55"/><circle cx="738.7" cy="472.0" r="1.55"/><circle cx="740.6" cy="495.8" r="1.55"/><circle cx="745.7" cy="490.4" r="1.55"/><circle cx="748.3" cy="494.4" r="1.55"/><circle cx="752.6" cy="532.2" r="1.55"/><circle cx="756.3" cy="516.6" r="1.55"/><circle cx="760.3" cy="519.2" r="1.55"/><circle cx="763.8" cy="532.0" r="1.55"/><circle cx="766.5" cy="542.7" r="1.55"/><circle cx="769.4" cy="511.4" r="1.55"/><circle cx="773.4" cy="532.0" r="1.55"/><circle cx="777.1" cy="529.6" r="1.55"/><circle cx="779.5" cy="519.2" r="1.55"/><circle cx="782.2" cy="506.4" r="1.55"/><circle cx="785.1" cy="503.7" r="1.55"/><circle cx="787.3" cy="474.9" r="1.55"/><circle cx="790.2" cy="474.9" r="1.55"/><circle cx="792.9" cy="476.0" r="1.55"/><circle cx="795.5" cy="493.0" r="1.55"/><circle cx="797.9" cy="495.8" r="1.55"/><circle cx="800.6" cy="494.4" r="1.55"/><circle cx="803.0" cy="481.3" r="1.55"/><circle cx="805.7" cy="506.6" r="1.55"/><circle cx="808.3" cy="519.5" r="1.55"/><circle cx="811.0" cy="501.1" r="1.55"/><circle cx="813.4" cy="488.8" r="1.55"/><circle cx="816.3" cy="484.2" r="1.55"/><circle cx="819.0" cy="512.3" r="1.55"/><circle cx="821.4" cy="490.9" r="1.55"/><circle cx="823.8" cy="500.3" r="1.55"/><circle cx="826.5" cy="499.5" r="1.55"/><circle cx="829.1" cy="514.1" r="1.55"/><circle cx="831.8" cy="508.8" r="1.55"/><circle cx="834.5" cy="498.2" r="1.55"/><circle cx="836.9" cy="482.1" r="1.55"/><circle cx="839.8" cy="470.7" r="1.55"/><circle cx="842.2" cy="482.6" r="1.55"/><circle cx="844.6" cy="486.1" r="1.55"/><circle cx="847.2" cy="465.4" r="1.55"/><circle cx="850.2" cy="484.5" r="1.55"/><circle cx="852.6" cy="498.1" r="1.55"/><circle cx="855.3" cy="494.9" r="1.55"/><circle cx="857.7" cy="501.9" r="1.55"/><circle cx="860.3" cy="488.5" r="1.55"/><circle cx="863.3" cy="490.6" r="1.55"/><circle cx="868.1" cy="465.0" r="1.55"/><circle cx="871.0" cy="456.5" r="1.55"/><circle cx="873.4" cy="472.3" r="1.55"/><circle cx="875.8" cy="466.9" r="1.55"/><circle cx="878.5" cy="454.4" r="1.55"/><circle cx="881.4" cy="461.9" r="1.55"/><circle cx="883.8" cy="479.2" r="1.55"/><circle cx="886.5" cy="485.6" r="1.55"/><circle cx="888.9" cy="468.2" r="1.55"/><circle cx="891.8" cy="468.2" r="1.55"/><circle cx="894.5" cy="466.4" r="1.55"/><circle cx="896.6" cy="425.0" r="1.55"/><circle cx="899.8" cy="420.3" r="1.55"/><circle cx="902.2" cy="444.3" r="1.55"/><circle cx="904.9" cy="430.9" r="1.55"/><circle cx="907.5" cy="457.3" r="1.55"/><circle cx="909.7" cy="492.3" r="1.55"/><circle cx="912.3" cy="476.8" r="1.55"/><circle cx="917.7" cy="468.5" r="1.55"/><circle cx="920.4" cy="489.9" r="1.55"/><circle cx="922.8" cy="514.6" r="1.55"/><circle cx="925.5" cy="501.8" r="1.55"/><circle cx="928.4" cy="527.2" r="1.55"/><circle cx="932.1" cy="518.6" r="1.55"/><circle cx="937.5" cy="497.9" r="1.55"/><circle cx="942.3" cy="486.9" r="1.55"/><circle cx="947.6" cy="481.8" r="1.55"/><circle cx="954.0" cy="492.5" r="1.55"/><circle cx="960.7" cy="491.0" r="1.55"/><circle cx="967.3" cy="433.1" r="1.55"/><circle cx="972.4" cy="436.2" r="1.55"/><circle cx="974.8" cy="449.1" r="1.55"/><circle cx="977.7" cy="459.4" r="1.55"/><circle cx="980.1" cy="453.0" r="1.55"/><circle cx="982.8" cy="463.5" r="1.55"/><circle cx="985.2" cy="468.2" r="1.55"/><circle cx="990.8" cy="469.4" r="1.55"/><circle cx="995.9" cy="455.0" r="1.55"/><circle cx="999.9" cy="421.0" r="1.55"/><circle cx="1006.0" cy="447.5" r="1.55"/><circle cx="1012.7" cy="400.8" r="1.55"/><circle cx="1016.4" cy="425.6" r="1.55"/><circle cx="1019.3" cy="435.7" r="1.55"/><circle cx="1021.5" cy="450.9" r="1.55"/><circle cx="1025.7" cy="459.0" r="1.55"/><circle cx="1030.8" cy="460.3" r="1.55"/><circle cx="1034.5" cy="427.5" r="1.55"/><circle cx="1037.5" cy="448.0" r="1.55"/><circle cx="1039.9" cy="456.0" r="1.55"/><circle cx="1042.5" cy="461.9" r="1.55"/><circle cx="1045.2" cy="442.4" r="1.55"/><circle cx="1049.2" cy="453.3" r="1.55"/><circle cx="1052.7" cy="422.7" r="1.55"/><circle cx="1056.7" cy="418.1" r="1.55"/><circle cx="1064.4" cy="437.4" r="1.55"/><circle cx="1069.7" cy="412.0" r="1.55"/><circle cx="1074.8" cy="427.5" r="1.55"/><circle cx="1078.8" cy="437.9" r="1.55"/><circle cx="1081.5" cy="436.0" r="1.55"/><circle cx="1089.2" cy="447.2" r="1.55"/><circle cx="1097.2" cy="429.6" r="1.55"/></g>
<rect x="8.0" y="711.2" width="29.0" height="29.3" fill="none" stroke="#1a1512" stroke-width="1.9"/>
<text x="23.0" y="736.0" font-size="30" text-anchor="middle" font-weight="bold" fill="#1a1a1a" >b</text>
<line x1="125.8" y1="714.6" x2="132.4" y2="714.6" stroke="#8c8c8c" stroke-width="1.3" />
<text x="108.2" y="720.8" font-size="17.5" text-anchor="end" fill="#1a1a1a" >-10.50</text>
<line x1="125.8" y1="760.4" x2="132.4" y2="760.4" stroke="#8c8c8c" stroke-width="1.3" />
<text x="108.2" y="766.6" font-size="17.5" text-anchor="end" fill="#1a1a1a" >-10.00</text>
<line x1="125.8" y1="806.1" x2="132.4" y2="806.1" stroke="#8c8c8c" stroke-width="1.3" />
<text x="108.2" y="812.3" font-size="17.5" text-anchor="end" fill="#1a1a1a" >-9.50</text>
<line x1="125.8" y1="851.9" x2="132.4" y2="851.9" stroke="#8c8c8c" stroke-width="1.3" />
<text x="108.2" y="858.1" font-size="17.5" text-anchor="end" fill="#1a1a1a" >-9.00</text>
<line x1="125.8" y1="897.7" x2="132.4" y2="897.7" stroke="#8c8c8c" stroke-width="1.3" />
<text x="108.2" y="903.9" font-size="17.5" text-anchor="end" fill="#1a1a1a" >-8.50</text>
<line x1="125.8" y1="943.5" x2="132.4" y2="943.5" stroke="#8c8c8c" stroke-width="1.3" />
<text x="108.2" y="949.7" font-size="17.5" text-anchor="end" fill="#1a1a1a" >-8.00</text>
<line x1="125.8" y1="989.2" x2="132.4" y2="989.2" stroke="#8c8c8c" stroke-width="1.3" />
<text x="108.2" y="995.4" font-size="17.5" text-anchor="end" fill="#1a1a1a" >-7.50</text>
<line x1="125.8" y1="1035.0" x2="132.4" y2="1035.0" stroke="#8c8c8c" stroke-width="1.3" />
<text x="108.2" y="1041.2" font-size="17.5" text-anchor="end" fill="#1a1a1a" >-7.00</text>
<line x1="1110.8" y1="714.6" x2="1116.8" y2="714.6" stroke="#8c8c8c" stroke-width="1.3" />
<text x="1130.0" y="720.8" font-size="17.5" text-anchor="start" fill="#1a1a1a" >-8.00</text>
<line x1="1110.8" y1="768.0" x2="1116.8" y2="768.0" stroke="#8c8c8c" stroke-width="1.3" />
<text x="1130.0" y="774.2" font-size="17.5" text-anchor="start" fill="#1a1a1a" >-7.70</text>
<line x1="1110.8" y1="821.4" x2="1116.8" y2="821.4" stroke="#8c8c8c" stroke-width="1.3" />
<text x="1130.0" y="827.6" font-size="17.5" text-anchor="start" fill="#1a1a1a" >-7.40</text>
<line x1="1110.8" y1="874.8" x2="1116.8" y2="874.8" stroke="#8c8c8c" stroke-width="1.3" />
<text x="1130.0" y="881.0" font-size="17.5" text-anchor="start" fill="#1a1a1a" >-7.10</text>
<line x1="1110.8" y1="928.2" x2="1116.8" y2="928.2" stroke="#8c8c8c" stroke-width="1.3" />
<text x="1130.0" y="934.4" font-size="17.5" text-anchor="start" fill="#1a1a1a" >-6.80</text>
<line x1="1110.8" y1="981.6" x2="1116.8" y2="981.6" stroke="#8c8c8c" stroke-width="1.3" />
<text x="1130.0" y="987.8" font-size="17.5" text-anchor="start" fill="#1a1a1a" >-6.50</text>
<line x1="1110.8" y1="1035.0" x2="1116.8" y2="1035.0" stroke="#8c8c8c" stroke-width="1.3" />
<text x="1130.0" y="1041.2" font-size="17.5" text-anchor="start" fill="#1a1a1a" >-6.20</text>
<text x="132.1" y="1067.2" font-size="17.5" text-anchor="middle" textLength="10.2" lengthAdjust="spacingAndGlyphs" fill="#1a1a1a" >0</text>
<line x1="310.0" y1="1029.0" x2="310.0" y2="1035.0" stroke="#8c8c8c" stroke-width="1.2" />
<text x="310.0" y="1067.2" font-size="17.5" text-anchor="middle" textLength="40.9" lengthAdjust="spacingAndGlyphs" fill="#1a1a1a" >1000</text>
<line x1="487.9" y1="1029.0" x2="487.9" y2="1035.0" stroke="#8c8c8c" stroke-width="1.2" />
<text x="487.9" y="1067.2" font-size="17.5" text-anchor="middle" textLength="40.9" lengthAdjust="spacingAndGlyphs" fill="#1a1a1a" >2000</text>
<line x1="665.8" y1="1029.0" x2="665.8" y2="1035.0" stroke="#8c8c8c" stroke-width="1.2" />
<text x="665.8" y="1067.2" font-size="17.5" text-anchor="middle" textLength="40.9" lengthAdjust="spacingAndGlyphs" fill="#1a1a1a" >3000</text>
<line x1="843.7" y1="1029.0" x2="843.7" y2="1035.0" stroke="#8c8c8c" stroke-width="1.2" />
<text x="843.7" y="1067.2" font-size="17.5" text-anchor="middle" textLength="40.9" lengthAdjust="spacingAndGlyphs" fill="#1a1a1a" >4000</text>
<line x1="1021.6" y1="1029.0" x2="1021.6" y2="1035.0" stroke="#8c8c8c" stroke-width="1.2" />
<text x="1021.6" y="1067.2" font-size="17.5" text-anchor="middle" textLength="40.9" lengthAdjust="spacingAndGlyphs" fill="#1a1a1a" >5000</text>
<text x="630.3" y="1095.2" font-size="18" text-anchor="middle" font-weight="bold" textLength="121" lengthAdjust="spacingAndGlyphs" fill="#1a1a1a" >Age (year BP)</text>
<text transform="translate(46.0,875.0) rotate(-90)" x="0" y="0" font-size="19" font-weight="bold" text-anchor="middle" fill="#1a1a1a" textLength="141.5" lengthAdjust="spacingAndGlyphs">δ<tspan font-size="0.62em" dy="-0.55em">18</tspan><tspan dy="0.34em">O (‰, VPDB)</tspan></text>
<text transform="translate(1207.0,878.0) rotate(-90)" x="0" y="0" font-size="19" font-weight="bold" text-anchor="middle" fill="#1a1a1a" textLength="141.5" lengthAdjust="spacingAndGlyphs">δ<tspan font-size="0.62em" dy="-0.55em">18</tspan><tspan dy="0.34em">O (‰, VPDB)</tspan></text>
<text x="153.4" y="752.4" font-size="22.3" text-anchor="start" fill="#1a1a1a" textLength="194.5" lengthAdjust="spacing">r = 0.39 (p &lt; 0.001)</text>
<text x="153.4" y="779.2" font-size="22.3" text-anchor="start" fill="#1a1a1a" >n = 271</text>
<polyline points="132.2,921.6 138.4,859.0 141.8,920.1 145.5,915.7 147.7,884.8 151.8,877.4 155.8,881.9 158.7,887.8 160.9,856.8 165.3,858.3 169.4,902.5 174.2,923.1 178.6,939.3 181.5,998.9 185.9,936.3 191.5,884.1 195.2,982.7 198.4,899.5 202.1,928.2 205.1,833.3 208.0,949.6 211.7,956.9 215.4,967.2 219.0,943.7 223.0,921.6 227.9,940.7 231.6,946.6 236.0,944.4 240.4,944.4 243.3,906.9 247.8,895.1 252.2,884.8 256.3,867.9 258.8,951.0 263.2,963.6 266.1,912.8 269.1,883.3 271.6,951.0 275.7,782.5 278.7,886.3 280.9,929.0 283.8,931.9 286.5,940.0 288.7,912.8 291.6,908.4 293.8,918.7 298.2,896.6 301.2,931.9 303.8,939.3 306.3,912.8 308.6,923.1 311.5,975.3 315.2,962.8 318.9,940.7 323.3,954.0 326.5,979.0 328.4,940.7 332.1,917.2 335.0,917.2 338.0,930.4 340.9,946.6 343.9,924.5 345.3,934.9 348.3,936.3 350.5,977.5 353.9,912.8 358.3,949.6 361.2,934.9 363.0,939.3 365.2,967.2 368.2,946.6 370.4,965.8 373.0,909.8 376.3,899.5 378.9,895.8 380.7,943.7 382.9,951.0 385.8,892.9 389.8,924.5 393.6,901.0 396.9,920.1 400.5,898.1 402.8,933.4 405.7,939.3 410.1,908.4 411.6,917.2 414.5,912.8 417.8,908.4 420.4,873.0 423.4,878.9 427.8,912.8 431.9,870.1 435.1,893.6 441.5,909.8 443.7,899.5 447.4,912.0 449.6,887.8 451.8,899.5 454.7,895.1 455.9,902.5 458.4,837.0 461.3,883.3 463.6,911.3 467.2,877.4 469.4,870.8 471.6,896.6 473.9,909.8 507.7,854.6 510.4,878.9 512.9,921.6 514.3,901.0 516.5,908.4 518.7,935.6 520.7,873.0 522.1,856.8 523.9,876.0 525.4,901.7 528.3,881.9 530.5,908.4 531.7,926.0 534.9,911.3 537.9,893.6 540.8,923.8 544.8,924.5 548.6,899.5 550.4,926.8 552.6,903.2 555.5,927.5 557.8,889.2 559.5,824.5 563.6,851.0 565.4,867.1 569.2,867.9 571.7,839.9 575.1,912.0 577.6,902.5 580.6,908.4 583.5,908.4 587.2,887.8 592.3,840.7 595.7,842.1 601.6,895.8 606.8,883.3 612.4,856.8 616.3,896.6 620.3,945.9 623.3,889.2 625.9,926.0 631.1,901.0 634.0,865.7 636.9,896.6 639.2,879.7 641.8,887.8 645.0,906.9 647.3,849.5 649.5,864.2 651.7,855.4 653.6,864.2 655.3,851.0 660.5,853.9 666.4,851.0 670.1,839.2 673.0,839.2 676.0,814.2 678.9,881.9 681.5,867.1 689.2,917.2 698.0,920.1 709.1,933.4 712.8,899.5 715.4,881.9 721.6,884.8 725.7,887.8 729.7,917.2 734.8,920.1 740.0,864.9 745.1,870.1 750.0,887.8 761.0,904.7 766.2,928.2 772.1,909.8 777.2,892.2 782.1,908.4 786.8,887.8 792.7,867.1 797.4,851.0 802.7,876.7 807.4,849.5 813.0,830.3 818.4,851.0 823.6,856.8 827.3,843.6 831.0,825.2 836.1,898.1 838.3,787.7 843.0,855.4 847.9,821.5 850.1,858.3 852.3,851.0 856.0,870.1 858.9,887.8 862.2,896.6 864.8,896.6 867.0,812.7 869.5,924.5 874.4,836.2 878.1,889.2 881.3,903.9 884.7,884.8 887.6,883.3 892.5,863.5 895.4,887.8 900.9,846.5 905.0,937.1 906.2,873.0 910.2,890.7 913.1,864.2 916.0,902.5 919.4,828.1 923.8,876.7 928.6,865.7 933.0,828.9 937.1,817.1 941.8,846.5 946.5,875.2 950.6,831.1 955.8,858.3 960.2,870.1 964.6,831.8 969.0,858.3 975.4,867.1 980.1,825.9 985.2,840.7 990.1,856.8 995.0,836.6 999.4,813.8 1004.8,820.3 1008.9,764.8 1013.0,784.4 1020.2,843.2 1024.4,795.3 1028.9,780.1 1033.1,819.2 1036.9,795.3 1039.6,792.6 1045.1,813.8 1049.4,784.4 1057.6,743.1 1062.7,806.7 1066.8,767.0 1071.7,870.4 1074.4,816.0 1080.4,795.8 1089.1,797.5" fill="none" stroke="#243f96" stroke-width="3.2" stroke-linejoin="round" />
<polyline points="132.2,901.0 136.6,924.5 141.0,934.9 144.7,949.6 147.7,948.1 151.8,965.8 155.3,936.3 158.7,909.8 161.6,911.3 165.3,918.7 169.7,968.7 174.2,898.1 177.8,862.7 181.5,862.0 185.9,884.8 188.9,887.0 191.5,887.8 194.8,927.5 197.7,956.9 202.1,902.5 205.1,871.6 208.0,859.8 211.7,856.8 215.1,828.1 218.3,856.8 222.4,899.5 227.1,911.3 231.6,921.6 236.3,899.5 240.4,917.2 244.1,954.7 248.5,898.1 252.9,924.5 258.1,896.6 262.5,874.5 266.1,890.7 269.1,912.0 273.1,855.4 275.0,898.1 276.9,896.6 279.4,861.3 283.1,881.9 286.0,909.1 290.9,890.7 293.5,862.7 296.0,856.8 299.0,838.4 301.2,867.1 303.4,892.2 306.3,898.1 308.6,918.7 311.5,912.0 313.7,878.9 316.6,883.3 318.9,884.8 321.1,864.9 323.3,887.8 326.2,903.9 329.2,890.7 332.1,874.5 335.8,924.5 338.3,901.0 340.9,929.7 343.6,915.7 346.1,895.1 348.3,918.7 350.9,908.4 353.4,894.4 356.4,909.8 358.3,912.8 361.5,937.8 365.7,906.9 368.9,926.0 371.1,931.9 374.8,918.7 379.2,908.4 383.3,898.1 386.3,905.4 389.5,903.9 393.9,920.1 398.0,954.0 401.3,929.0 405.0,926.0 408.6,923.1 411.6,917.2 415.7,894.4 418.2,921.6 422.2,878.9 424.8,901.0 427.8,901.7 432.2,926.0 435.4,857.6 441.2,864.2 444.4,886.3 448.1,902.5 450.3,907.6 454.0,873.8 456.9,887.8 460.3,916.5 462.8,915.0 465.0,905.4 467.7,884.1 470.9,915.7 473.1,905.4 475.3,884.8 508.4,878.2 510.4,834.8 512.1,835.5 513.6,845.1 516.2,843.6 517.3,871.6 518.7,839.2 520.7,852.4 522.4,890.7 525.4,889.2 528.3,895.8 530.1,898.1 533.5,875.2 536.4,899.5 539.4,917.2 541.6,896.6 544.5,883.3 547.2,806.8 549.2,825.9 552.6,831.8 555.5,858.3 557.0,911.3 559.2,892.2 565.1,915.0 569.5,873.0 571.7,871.6 574.7,864.2 579.8,899.5 582.8,898.1 585.7,876.0 588.4,862.0 595.7,934.9 600.9,937.1 606.8,926.0 611.9,877.4 615.6,890.7 623.7,903.2 630.3,896.6 636.9,884.8 639.5,917.9 642.8,901.0 648.7,865.7 653.1,905.4 655.3,885.5 659.8,901.0 665.7,926.0 669.3,832.6 675.7,842.1 678.2,865.7 683.3,856.8 689.5,815.6 698.8,896.6 709.1,912.8 714.2,878.9 719.4,902.5 723.8,911.3 728.2,864.2 734.8,887.8 742.2,942.2 746.6,922.3 750.7,926.0 756.6,956.9 762.5,942.2 767.7,939.3 772.8,911.3 777.2,870.1 779.4,869.4 783.9,883.3 788.0,895.8 793.1,877.4 798.3,926.8 800.8,901.0 806.2,880.4 811.8,895.8 819.5,919.4 825.4,899.5 829.5,864.2 832.4,877.4 835.4,883.3 838.0,856.8 842.7,899.5 845.4,895.1 848.3,903.2 851.3,886.3 853.8,886.3 857.4,864.2 861.9,845.1 864.8,865.7 868.5,842.1 871.4,849.5 876.9,883.3 879.5,860.5 883.9,858.3 886.9,803.9 890.1,798.0 892.8,828.9 895.7,811.9 900.1,890.7 905.0,864.2 908.7,860.5 911.6,902.5 913.8,920.1 916.0,902.5 919.0,936.3 922.7,920.1 927.8,898.1 933.7,883.3 938.9,877.4 944.7,892.2 952.1,889.2 958.3,814.9 963.6,818.6 968.3,848.0 975.4,855.4 981.8,861.3 986.0,833.3 991.1,799.4 995.0,824.7 997.7,834.5 1000.4,810.5 1004.2,770.8 1008.1,800.7 1013.0,836.6 1016.8,848.6 1022.7,849.7 1026.0,806.7 1027.6,832.3 1034.2,853.0 1036.9,825.8 1040.7,841.0 1043.4,812.7 1048.3,795.3 1056.5,820.3 1062.5,787.7 1066.8,806.2 1071.2,820.3 1074.4,819.8 1081.0,833.4 1089.7,810.5" fill="none" stroke="#c0212b" stroke-width="3.2" stroke-linejoin="round" />
<line x1="988.5" y1="958.4" x2="1027.5" y2="958.4" stroke="#233f95" stroke-width="3.2" stroke-linecap="round"/>
<text x="1032.6" y="964.3" font-size="17.5" text-anchor="start" textLength="34.4" lengthAdjust="spacingAndGlyphs" fill="#1a1a1a" >HS-4</text>
<line x1="988.5" y1="994.3" x2="1027.5" y2="994.3" stroke="#bd1e2c" stroke-width="3.2" stroke-linecap="round"/>
<text x="1032.6" y="999.8" font-size="17.5" text-anchor="start" textLength="36.4" lengthAdjust="spacingAndGlyphs" fill="#1a1a1a" >BN-1</text>
<rect x="391.8" y="1003.6" width="12.0" height="12.0" fill="#231815" />
<rect x="729.4" y="1003.6" width="37.6" height="12.0" fill="#231815" />
<rect x="876.1" y="1003.5" width="37.8" height="12.0" fill="#231815" />
<text x="448.1" y="1015.6" font-size="20.3" text-anchor="start" textLength="233.5" lengthAdjust="spacingAndGlyphs" fill="#1a1a1a" >MSEs from HS-4 &amp; D1/D2</text>
<line x1="428.0" y1="1009.6" x2="445.0" y2="1009.6" stroke="#231815" stroke-width="1.5" />
<polygon points="413.3,1009.6 429.6,1005.2 427.6,1009.6 429.6,1013.9" fill="#231815"/>
<line x1="688.0" y1="1009.5" x2="705.0" y2="1009.5" stroke="#231815" stroke-width="1.5" />
<polygon points="719.3,1009.5 703.9,1005.4 705.9,1009.5 703.9,1013.7" fill="#231815"/>
<line x1="132.4" y1="714.6" x2="1110.8" y2="714.6" stroke="#1a1a1a" stroke-width="1.5" />
<line x1="132.4" y1="714.6" x2="132.4" y2="1035.0" stroke="#8c8c8c" stroke-width="1.5" />
<line x1="1110.8" y1="714.6" x2="1110.8" y2="1035.0" stroke="#8c8c8c" stroke-width="1.5" />
<line x1="132.4" y1="1035.0" x2="1110.8" y2="1035.0" stroke="#8c8c8c" stroke-width="1.5" />
<rect x="8.0" y="1167.0" width="29.0" height="29.1" fill="none" stroke="#1a1512" stroke-width="1.9"/>
<text x="22.1" y="1191.7" font-size="30" text-anchor="middle" font-weight="bold" fill="#1a1a1a" >c</text>
<line x1="130.0" y1="1172.0" x2="136.8" y2="1172.0" stroke="#8c8c8c" stroke-width="1.3" />
<text x="112.7" y="1178.2" font-size="17.5" text-anchor="end" fill="#1a1a1a" >-9.00</text>
<line x1="130.0" y1="1235.8" x2="136.8" y2="1235.8" stroke="#8c8c8c" stroke-width="1.3" />
<text x="112.7" y="1242.0" font-size="17.5" text-anchor="end" fill="#1a1a1a" >-8.50</text>
<line x1="130.0" y1="1299.6" x2="136.8" y2="1299.6" stroke="#8c8c8c" stroke-width="1.3" />
<text x="112.7" y="1305.8" font-size="17.5" text-anchor="end" fill="#1a1a1a" >-8.00</text>
<line x1="130.0" y1="1363.4" x2="136.8" y2="1363.4" stroke="#8c8c8c" stroke-width="1.3" />
<text x="112.7" y="1369.6" font-size="17.5" text-anchor="end" fill="#1a1a1a" >-7.50</text>
<line x1="130.0" y1="1427.2" x2="136.8" y2="1427.2" stroke="#8c8c8c" stroke-width="1.3" />
<text x="112.7" y="1433.4" font-size="17.5" text-anchor="end" fill="#1a1a1a" >-7.00</text>
<line x1="130.0" y1="1491.0" x2="136.8" y2="1491.0" stroke="#8c8c8c" stroke-width="1.3" />
<text x="112.7" y="1497.2" font-size="17.5" text-anchor="end" fill="#1a1a1a" >-6.50</text>
<line x1="1108.4" y1="1172.0" x2="1114.4" y2="1172.0" stroke="#8c8c8c" stroke-width="1.3" />
<text x="1128.3" y="1178.2" font-size="17.5" text-anchor="start" fill="#1a1a1a" >-9.00</text>
<line x1="1108.4" y1="1225.2" x2="1114.4" y2="1225.2" stroke="#8c8c8c" stroke-width="1.3" />
<text x="1128.3" y="1231.4" font-size="17.5" text-anchor="start" fill="#1a1a1a" >-8.50</text>
<line x1="1108.4" y1="1278.3" x2="1114.4" y2="1278.3" stroke="#8c8c8c" stroke-width="1.3" />
<text x="1128.3" y="1284.5" font-size="17.5" text-anchor="start" fill="#1a1a1a" >-8.00</text>
<line x1="1108.4" y1="1331.5" x2="1114.4" y2="1331.5" stroke="#8c8c8c" stroke-width="1.3" />
<text x="1128.3" y="1337.7" font-size="17.5" text-anchor="start" fill="#1a1a1a" >-7.50</text>
<line x1="1108.4" y1="1384.7" x2="1114.4" y2="1384.7" stroke="#8c8c8c" stroke-width="1.3" />
<text x="1128.3" y="1390.9" font-size="17.5" text-anchor="start" fill="#1a1a1a" >-7.00</text>
<line x1="1108.4" y1="1437.8" x2="1114.4" y2="1437.8" stroke="#8c8c8c" stroke-width="1.3" />
<text x="1128.3" y="1444.0" font-size="17.5" text-anchor="start" fill="#1a1a1a" >-6.50</text>
<line x1="1108.4" y1="1491.0" x2="1114.4" y2="1491.0" stroke="#8c8c8c" stroke-width="1.3" />
<text x="1128.3" y="1497.2" font-size="17.5" text-anchor="start" fill="#1a1a1a" >-6.00</text>
<text x="136.6" y="1523.0" font-size="17.5" text-anchor="middle" textLength="10.2" lengthAdjust="spacingAndGlyphs" fill="#1a1a1a" >0</text>
<line x1="313.4" y1="1485.0" x2="313.4" y2="1491.0" stroke="#8c8c8c" stroke-width="1.2" />
<text x="313.4" y="1523.0" font-size="17.5" text-anchor="middle" textLength="40.9" lengthAdjust="spacingAndGlyphs" fill="#1a1a1a" >1000</text>
<line x1="490.1" y1="1485.0" x2="490.1" y2="1491.0" stroke="#8c8c8c" stroke-width="1.2" />
<text x="490.1" y="1523.0" font-size="17.5" text-anchor="middle" textLength="40.9" lengthAdjust="spacingAndGlyphs" fill="#1a1a1a" >2000</text>
<line x1="666.9" y1="1485.0" x2="666.9" y2="1491.0" stroke="#8c8c8c" stroke-width="1.2" />
<text x="666.9" y="1523.0" font-size="17.5" text-anchor="middle" textLength="40.9" lengthAdjust="spacingAndGlyphs" fill="#1a1a1a" >3000</text>
<line x1="843.6" y1="1485.0" x2="843.6" y2="1491.0" stroke="#8c8c8c" stroke-width="1.2" />
<text x="843.6" y="1523.0" font-size="17.5" text-anchor="middle" textLength="40.9" lengthAdjust="spacingAndGlyphs" fill="#1a1a1a" >4000</text>
<line x1="1020.4" y1="1485.0" x2="1020.4" y2="1491.0" stroke="#8c8c8c" stroke-width="1.2" />
<text x="1020.4" y="1523.0" font-size="17.5" text-anchor="middle" textLength="40.9" lengthAdjust="spacingAndGlyphs" fill="#1a1a1a" >5000</text>
<text x="629.8" y="1554.0" font-size="18" text-anchor="middle" font-weight="bold" textLength="120" lengthAdjust="spacingAndGlyphs" fill="#1a1a1a" >Age (year BP)</text>
<text transform="translate(61.5,1332.0) rotate(-90)" x="0" y="0" font-size="19" font-weight="bold" text-anchor="middle" fill="#1a1a1a" textLength="141.5" lengthAdjust="spacingAndGlyphs">δ<tspan font-size="0.62em" dy="-0.55em">18</tspan><tspan dy="0.34em">O (‰, VPDB)</tspan></text>
<text transform="translate(1200.0,1332.0) rotate(-90)" x="0" y="0" font-size="19" font-weight="bold" text-anchor="middle" fill="#1a1a1a" textLength="141.5" lengthAdjust="spacingAndGlyphs">δ<tspan font-size="0.62em" dy="-0.55em">18</tspan><tspan dy="0.34em">O (‰, VPDB)</tspan></text>
<text x="155.4" y="1210.4" font-size="22.3" text-anchor="start" fill="#1a1a1a" textLength="194.5" lengthAdjust="spacing">r = 0.41 (p &lt; 0.001)</text>
<text x="155.4" y="1237.6" font-size="22.3" text-anchor="start" fill="#1a1a1a" >n = 299</text>
<polyline points="136.5,1358.7 139.1,1330.5 142.8,1356.1 146.1,1288.2 149.5,1349.3 153.5,1338.6 156.2,1335.9 158.9,1309.7 162.0,1352.0 163.6,1346.6 165.6,1341.9 169.0,1397.7 173.7,1372.2 179.1,1403.8 183.5,1374.2 187.1,1385.6 190.5,1432.7 194.5,1350.7 198.8,1350.0 201.9,1473.0 205.0,1374.9 208.3,1367.5 212.3,1382.9 218.5,1470.3 222.1,1402.4 226.8,1407.1 232.5,1336.6 236.2,1380.3 240.3,1387.0 244.3,1413.9 247.6,1366.8 251.7,1387.0 257.1,1403.1 260.2,1346.6 263.1,1350.7 267.1,1378.9 272.3,1412.5 277.9,1401.8 280.6,1387.0 283.9,1388.3 287.4,1412.5 291.5,1376.2 294.4,1388.3 297.8,1399.1 299.8,1378.9 302.2,1407.1 304.5,1381.6 306.2,1455.5 309.5,1370.8 311.9,1400.4 316.2,1400.4 318.9,1393.7 321.6,1419.9 324.0,1354.7 327.4,1366.8 329.4,1399.1 332.7,1391.0 335.8,1400.4 338.8,1370.2 341.5,1403.1 346.2,1358.1 348.9,1382.9 351.6,1404.5 354.2,1372.2 358.9,1411.2 361.9,1372.2 365.0,1393.7 370.4,1358.1 373.1,1368.2 376.4,1412.5 380.5,1373.5 383.8,1441.4 388.3,1348.0 392.6,1377.6 396.6,1399.1 400.0,1397.1 403.1,1424.6 407.4,1389.0 410.0,1424.6 412.7,1388.3 415.2,1430.0 420.1,1374.9 422.8,1415.9 429.9,1363.4 432.6,1384.3 435.6,1399.1 439.6,1401.8 442.0,1357.4 448.7,1364.1 451.4,1348.0 453.4,1368.2 455.9,1348.0 457.5,1392.4 461.5,1395.0 464.2,1450.8 465.5,1373.5 468.9,1376.2 471.6,1377.6 475.2,1359.4 477.6,1360.1 496.5,1376.2 509.6,1390.3 512.6,1361.4 514.6,1384.3 518.0,1347.3 520.7,1370.8 524.7,1349.3 528.1,1348.0 530.1,1361.4 532.1,1343.9 533.4,1365.5 535.5,1343.3 539.5,1378.9 542.2,1411.2 543.5,1372.2 546.2,1397.7 548.2,1406.5 552.3,1366.8 557.0,1336.6 561.7,1366.8 570.4,1359.4 573.1,1377.6 581.2,1380.3 583.2,1359.4 587.2,1398.4 593.3,1384.3 597.0,1356.2 601.1,1367.0 604.4,1379.1 607.8,1393.9 611.8,1393.9 616.5,1400.6 620.5,1365.0 623.9,1375.0 626.6,1386.5 631.3,1381.1 635.3,1388.5 637.8,1345.5 641.4,1368.3 648.1,1332.0 652.8,1371.0 654.2,1367.0 656.2,1397.9 658.2,1349.5 661.6,1327.3 665.2,1345.5 667.6,1323.9 670.0,1328.0 673.7,1318.6 676.3,1353.5 679.0,1388.5 683.7,1344.1 689.8,1334.7 695.2,1353.5 698.5,1361.6 709.3,1369.0 714.0,1331.3 719.4,1336.1 723.4,1349.5 727.4,1352.2 730.8,1358.9 736.2,1328.0 738.6,1341.4 742.2,1326.6 746.3,1338.7 751.0,1321.9 753.4,1326.1 756.7,1318.1 759.4,1317.4 763.2,1307.3 767.5,1336.2 770.2,1327.5 771.5,1341.6 774.2,1345.6 777.6,1360.4 780.3,1335.5 785.0,1356.4 788.3,1339.6 791.0,1348.3 793.7,1344.3 797.7,1317.4 803.8,1322.8 806.2,1305.3 809.2,1350.3 811.6,1303.3 813.9,1318.1 815.9,1310.7 819.0,1289.8 821.9,1317.4 824.6,1288.5 829.6,1280.4 832.0,1301.3 835.0,1289.8 839.8,1334.2 843.4,1320.1 847.1,1318.7 850.6,1337.6 854.9,1324.1 860.0,1303.3 863.6,1363.1 866.3,1329.5 871.7,1316.1 874.4,1328.2 881.1,1279.1 884.5,1299.9 889.2,1303.9 892.5,1330.8 895.2,1322.8 899.2,1336.2 902.6,1324.1 907.3,1340.3 910.4,1289.3 913.1,1263.8 915.8,1292.0 918.2,1257.1 922.2,1247.6 927.2,1279.2 932.6,1286.0 937.0,1274.5 944.0,1290.7 950.7,1297.4 957.8,1253.7 962.5,1287.3 966.2,1282.6 968.2,1266.5 972.2,1270.5 975.2,1255.0 980.3,1302.8 985.7,1294.7 991.1,1281.3 1000.0,1258.3 1002.6,1252.5 1006.1,1282.0 1008.7,1263.4 1011.5,1298.6 1015.4,1296.0 1020.7,1266.6 1024.3,1312.1 1032.0,1256.3 1034.3,1289.6 1039.4,1287.1 1042.9,1265.3 1054.4,1238.4 1059.2,1274.3 1065.3,1263.4 1068.5,1288.4 1072.4,1264.0 1079.7,1233.6 1087.7,1264.7" fill="none" stroke="#243f96" stroke-width="3.2" stroke-linejoin="round" />
<polyline points="136.5,1388.3 140.1,1399.1 143.4,1407.1 146.1,1411.2 149.5,1418.6 152.2,1417.9 155.5,1428.7 158.9,1407.1 162.3,1395.0 166.3,1396.4 169.7,1399.1 174.1,1430.7 177.7,1399.1 181.8,1366.8 185.1,1366.1 189.8,1380.3 194.5,1381.6 198.6,1397.7 201.9,1422.6 206.0,1397.7 210.0,1369.5 213.1,1364.1 215.8,1362.8 218.7,1346.0 222.1,1402.4 226.8,1388.3 231.5,1395.0 235.5,1402.4 240.0,1389.7 243.6,1403.1 247.4,1422.6 252.4,1387.6 256.4,1404.5 261.8,1388.3 266.1,1373.5 272.3,1396.4 277.2,1362.8 279.2,1388.3 281.9,1365.5 286.0,1379.6 287.0,1378.9 289.0,1393.7 292.4,1385.6 295.8,1368.2 301.8,1352.7 305.4,1384.3 308.5,1388.3 311.9,1400.4 316.2,1377.6 320.6,1380.3 324.0,1368.2 327.4,1391.0 330.7,1388.3 335.8,1374.2 338.8,1404.5 344.2,1407.1 347.9,1387.0 352.0,1395.0 355.6,1385.6 360.3,1399.1 365.0,1412.5 369.0,1393.7 373.1,1409.8 377.8,1400.4 385.8,1388.3 391.2,1393.0 396.6,1400.4 400.4,1421.9 403.1,1408.5 411.4,1401.1 418.1,1387.0 420.8,1395.0 425.5,1377.6 429.5,1388.3 434.9,1407.1 437.6,1364.1 439.6,1388.3 442.0,1368.2 445.4,1380.3 448.7,1392.4 452.1,1394.4 455.9,1374.2 458.8,1382.9 462.9,1399.1 466.9,1389.7 469.6,1380.3 472.5,1399.1 477.6,1380.3 508.6,1376.2 511.9,1350.0 516.0,1356.1 520.0,1353.4 523.4,1384.3 527.4,1381.6 530.1,1387.0 533.0,1403.8 535.7,1375.5 538.2,1377.6 540.2,1399.1 543.5,1388.3 546.2,1353.4 548.2,1333.9 550.9,1346.6 554.3,1349.3 558.3,1397.7 563.0,1376.2 567.1,1397.7 571.1,1373.5 575.8,1368.2 582.5,1393.7 589.2,1366.1 596.0,1410.5 597.0,1410.7 601.7,1412.0 608.4,1404.6 612.5,1375.7 618.5,1383.1 624.8,1391.2 631.3,1384.5 637.4,1381.1 640.7,1400.6 645.4,1383.1 650.1,1368.3 652.8,1392.5 656.2,1384.5 660.9,1389.8 665.6,1406.0 670.3,1349.5 675.7,1353.5 679.0,1371.7 684.4,1361.6 689.8,1338.7 698.5,1387.1 709.3,1397.2 714.7,1376.4 718.7,1387.1 724.1,1396.6 729.2,1367.6 730.8,1387.1 734.8,1383.1 738.9,1385.8 742.9,1415.4 746.9,1401.9 751.0,1404.6 752.4,1412.9 756.1,1423.6 759.4,1398.7 762.8,1415.5 767.5,1412.2 773.5,1394.0 776.2,1371.2 781.6,1370.5 785.6,1386.0 789.0,1386.6 792.8,1375.2 798.1,1405.5 803.8,1379.9 806.2,1377.9 808.9,1400.1 811.8,1383.3 815.9,1390.0 818.8,1401.4 823.9,1388.7 829.3,1367.1 834.7,1379.2 837.1,1363.1 842.1,1388.7 847.5,1391.3 850.8,1381.3 853.5,1383.3 860.0,1357.1 863.6,1368.5 868.3,1354.4 876.4,1379.2 879.1,1365.8 883.8,1363.8 887.8,1328.2 891.8,1347.0 894.5,1336.9 899.2,1384.6 902.6,1371.2 907.3,1365.1 907.7,1366.0 912.4,1400.9 915.1,1391.5 918.2,1411.0 922.5,1400.9 927.2,1387.5 932.6,1379.4 937.3,1376.1 944.7,1384.8 950.7,1383.4 957.4,1337.7 962.8,1340.4 967.5,1358.6 970.2,1355.2 974.9,1365.3 980.3,1366.6 985.7,1355.2 989.7,1328.3 996.2,1349.8 1000.0,1335.7 1002.6,1312.7 1006.4,1331.9 1009.6,1340.9 1011.3,1352.4 1015.4,1358.8 1020.7,1359.4 1024.3,1333.8 1026.9,1348.5 1032.0,1360.1 1035.2,1345.3 1038.4,1353.7 1042.3,1330.6 1046.7,1326.8 1054.4,1341.5 1059.5,1321.7 1068.5,1341.5 1071.7,1340.9 1079.4,1349.2 1086.4,1335.1" fill="none" stroke="#c0212b" stroke-width="3.2" stroke-linejoin="round" />
<line x1="969.0" y1="1417.1" x2="1009.0" y2="1417.1" stroke="#233f95" stroke-width="3.2" stroke-linecap="round"/>
<text x="1013.4" y="1422.6" font-size="17.5" text-anchor="start" textLength="20.5" lengthAdjust="spacingAndGlyphs" fill="#1a1a1a" >DA</text>
<line x1="969.0" y1="1452.7" x2="1009.0" y2="1452.7" stroke="#bd1e2c" stroke-width="3.2" stroke-linecap="round"/>
<text x="1013.4" y="1458.1" font-size="17.5" text-anchor="start" textLength="37" lengthAdjust="spacingAndGlyphs" fill="#1a1a1a" >BN-1</text>
<rect x="207.2" y="1474.2" width="11.9" height="12.0" fill="#231815" />
<rect x="399.2" y="1474.2" width="11.9" height="12.0" fill="#231815" />
<rect x="599.6" y="1474.2" width="11.9" height="12.0" fill="#231815" />
<rect x="899.0" y="1474.2" width="11.9" height="12.0" fill="#231815" />
<rect x="1072.0" y="1474.2" width="11.9" height="12.0" fill="#231815" />
<text x="689.0" y="1481.8" font-size="20.3" text-anchor="start" textLength="133" lengthAdjust="spacingAndGlyphs" fill="#1a1a1a" >MSEs from DA</text>
<line x1="666.0" y1="1475.7" x2="683.8" y2="1475.7" stroke="#231815" stroke-width="1.5" />
<polygon points="651.8,1475.7 667.8,1471.5 665.8,1475.7 667.8,1479.8" fill="#231815"/>
<line x1="825.8" y1="1475.7" x2="843.0" y2="1475.7" stroke="#231815" stroke-width="1.5" />
<polygon points="857.8,1475.7 841.8,1471.5 843.8,1475.7 841.8,1479.8" fill="#231815"/>
<line x1="136.8" y1="1172.0" x2="1108.4" y2="1172.0" stroke="#1a1a1a" stroke-width="1.5" />
<line x1="136.8" y1="1172.0" x2="136.8" y2="1491.0" stroke="#8c8c8c" stroke-width="1.5" />
<line x1="1108.4" y1="1172.0" x2="1108.4" y2="1491.0" stroke="#8c8c8c" stroke-width="1.5" />
<line x1="136.8" y1="1491.0" x2="1108.4" y2="1491.0" stroke="#8c8c8c" stroke-width="1.5" />
</svg></body></html>
